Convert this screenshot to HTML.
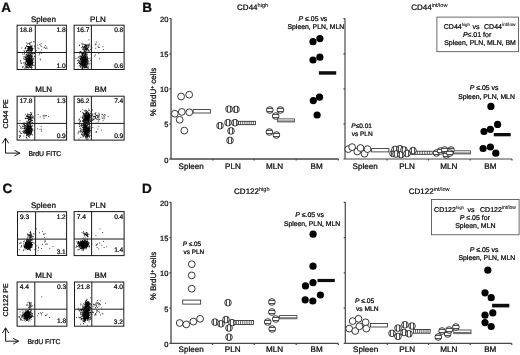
<!DOCTYPE html>
<html><head><meta charset="utf-8"><title>Figure</title>
<style>
html,body{margin:0;padding:0;background:#fff;}
body{width:520px;height:355px;overflow:hidden;font-family:"Liberation Sans",sans-serif;}
svg{display:block;font-family:"Liberation Sans",sans-serif;}
text .sp{stroke-width:0.08px;}
text{font-family:"Liberation Sans",sans-serif;fill:#0a0a0a;stroke:#0a0a0a;stroke-width:0.24px;text-rendering:geometricPrecision;}
</style></head><body>
<svg width="520" height="355" viewBox="0 0 520 355">
<rect width="520" height="355" fill="#fff"/>
<defs>
<filter id="bl" filterUnits="userSpaceOnUse" x="0" y="0" width="520" height="355"><feGaussianBlur stdDeviation="0.32"/></filter>
<g id="oc"><circle r="3.4" fill="#fff" stroke="#222" stroke-width="0.9"/></g>
<g id="fc"><circle r="3.6" fill="#050505"/></g>
<g id="vc"><circle r="3.35" fill="#e4e4e4"/><rect x="-1" y="-3.25" width="2" height="6.5" fill="#fff"/><path d="M-1.5 -3V3M1.5 -3V3" stroke="#222" stroke-width="0.75" fill="none"/><circle r="3.35" fill="none" stroke="#222" stroke-width="0.85"/></g>
<g id="hc"><circle r="3.35" fill="#e4e4e4"/><rect x="-3.25" y="-1" width="6.5" height="2" fill="#fff"/><path d="M-3 -1.5H3M-3 1.5H3" stroke="#222" stroke-width="0.75" fill="none"/><circle r="3.35" fill="none" stroke="#222" stroke-width="0.85"/></g>
</defs>
<g filter="url(#bl)">
<text x="1.2" y="11.9" font-size="13.5" text-anchor="start" font-weight="bold" fill="#000">A</text>
<text x="142.2" y="11.9" font-size="13.5" text-anchor="start" font-weight="bold" fill="#000">B</text>
<text x="2.6" y="193.4" font-size="13.5" text-anchor="start" font-weight="bold" fill="#000">C</text>
<text x="142.0" y="192.8" font-size="13.5" text-anchor="start" font-weight="bold" fill="#000">D</text>
<text x="43.5" y="22.4" font-size="8" text-anchor="middle" >Spleen</text>
<path d="M28.9 63.0h.01M29.0 59.7h.01M27.7 60.1h.01M31.4 62.7h.01M31.3 62.0h.01M30.1 61.7h.01M26.4 64.4h.01M30.3 63.0h.01M26.4 54.0h.01M27.8 59.1h.01M29.9 60.8h.01M30.3 58.4h.01M30.0 62.6h.01M28.2 67.9h.01M30.4 65.8h.01M28.3 58.0h.01M28.8 60.6h.01M30.5 62.0h.01M28.6 57.2h.01M28.5 65.9h.01M27.9 62.0h.01M30.2 55.0h.01M29.5 66.2h.01M25.8 59.7h.01M29.2 57.7h.01M30.3 60.8h.01M26.8 64.3h.01M30.6 64.8h.01M32.0 62.4h.01M29.6 55.8h.01M30.5 58.6h.01M28.6 55.9h.01M27.7 58.9h.01M31.7 52.9h.01M26.8 62.0h.01M32.0 63.3h.01M26.0 50.9h.01M30.0 58.1h.01M27.4 64.9h.01M31.4 61.6h.01M29.8 62.7h.01M32.3 63.5h.01M30.3 63.2h.01M26.6 66.1h.01M31.1 63.1h.01M25.8 58.5h.01M30.9 53.8h.01M29.1 65.1h.01M27.0 67.4h.01M30.4 60.4h.01M30.0 63.6h.01M29.6 65.6h.01M28.2 59.3h.01M31.3 61.1h.01M27.8 64.8h.01M32.0 59.2h.01M26.9 60.5h.01M29.1 59.8h.01M31.9 56.9h.01M31.7 55.9h.01M28.0 63.5h.01M31.4 64.4h.01M30.0 61.6h.01M29.7 63.3h.01M29.1 62.1h.01M30.4 61.0h.01M30.8 63.3h.01M33.0 62.3h.01M28.6 59.5h.01M29.4 64.7h.01M28.8 62.5h.01M32.7 50.7h.01M27.4 62.0h.01M30.1 62.0h.01M28.6 63.6h.01M29.9 58.9h.01M33.8 62.4h.01M28.4 60.6h.01M29.0 60.7h.01M24.5 59.1h.01M31.2 56.3h.01M29.3 64.8h.01M30.9 67.0h.01M26.3 59.6h.01M28.8 63.5h.01M31.4 50.3h.01M31.4 55.2h.01M30.6 55.0h.01M29.7 65.8h.01M29.1 61.8h.01M30.8 61.6h.01M29.2 67.1h.01M31.3 59.8h.01M34.3 56.4h.01M31.0 59.9h.01M29.6 63.8h.01M29.8 63.6h.01M26.7 55.0h.01M30.5 57.1h.01M27.6 55.1h.01M31.7 64.0h.01M32.1 57.2h.01M29.4 56.4h.01M30.8 67.4h.01M27.8 67.2h.01M31.2 60.3h.01M25.9 66.6h.01M29.2 58.6h.01M30.1 62.6h.01M32.1 56.9h.01M31.4 66.9h.01M32.0 60.3h.01M28.1 65.1h.01M29.6 61.5h.01M32.0 59.9h.01M25.3 59.5h.01M26.1 64.3h.01M30.0 58.6h.01M29.4 64.3h.01M29.5 66.3h.01M29.3 65.2h.01M32.1 67.4h.01M28.2 64.5h.01M26.0 56.7h.01M25.9 65.3h.01M27.2 60.9h.01M29.1 60.9h.01M28.3 61.9h.01M32.6 61.2h.01M30.4 65.0h.01M29.0 56.0h.01M28.4 65.3h.01M26.4 58.6h.01M31.2 64.2h.01M29.4 64.2h.01M29.7 56.3h.01M26.6 58.4h.01M31.1 58.7h.01M27.8 57.9h.01M26.6 60.5h.01M27.3 62.5h.01M25.2 62.3h.01M28.2 53.2h.01M30.7 59.9h.01M25.4 57.5h.01M29.9 59.2h.01M30.8 64.0h.01M30.6 62.3h.01M31.8 63.6h.01M30.2 52.7h.01M31.0 66.2h.01M28.9 59.1h.01M32.9 54.0h.01M27.7 63.8h.01M32.8 60.5h.01M30.4 64.6h.01M27.8 60.6h.01M29.9 64.3h.01M29.3 60.2h.01M27.6 59.6h.01M31.0 61.4h.01M27.9 57.6h.01M34.2 65.6h.01M30.5 50.6h.01M30.5 62.9h.01M32.4 62.7h.01M29.3 63.1h.01M25.9 65.1h.01M30.0 58.2h.01M31.8 68.2h.01M26.9 58.3h.01M29.9 61.7h.01M28.7 57.1h.01M33.2 65.1h.01M27.3 55.6h.01M32.5 65.0h.01M32.7 64.2h.01M27.8 62.0h.01M25.5 58.0h.01M29.3 63.1h.01M28.1 60.5h.01M30.2 62.5h.01M30.5 61.8h.01M28.8 64.2h.01M29.5 57.7h.01M28.3 61.0h.01M29.2 61.6h.01M29.4 61.7h.01M29.2 56.0h.01M30.2 65.2h.01M30.2 60.2h.01M30.2 57.1h.01M26.0 61.2h.01M27.7 64.0h.01M27.4 50.5h.01M27.5 67.3h.01M28.7 55.5h.01M28.0 63.1h.01M30.3 61.7h.01M32.1 63.8h.01M29.4 63.4h.01M32.4 64.9h.01M31.2 56.7h.01M29.1 63.9h.01M28.9 65.3h.01M30.5 64.6h.01M31.6 60.1h.01M28.8 64.5h.01M31.2 61.0h.01M27.3 61.8h.01M30.0 65.5h.01M30.8 61.1h.01M30.9 63.2h.01M29.8 61.2h.01M29.0 63.7h.01M27.5 58.5h.01M29.4 55.1h.01M28.6 53.0h.01M28.2 63.3h.01M30.4 60.8h.01M29.0 55.3h.01M32.7 63.1h.01M31.4 57.5h.01M29.1 53.7h.01M30.8 64.7h.01M26.0 60.8h.01M30.5 54.0h.01M26.1 56.7h.01M28.3 55.4h.01M29.5 62.0h.01M30.5 63.8h.01M32.1 65.7h.01M27.0 59.0h.01M27.5 56.7h.01M29.3 61.0h.01M30.3 54.7h.01M27.2 60.9h.01M29.0 59.8h.01M29.3 58.0h.01M30.7 62.4h.01M29.2 58.3h.01M29.1 50.1h.01M27.6 61.1h.01M26.7 61.8h.01M29.7 55.5h.01M28.9 59.7h.01M30.2 63.4h.01M29.3 57.6h.01M29.1 60.7h.01M30.7 62.2h.01M28.1 55.6h.01M28.7 58.0h.01M27.4 60.5h.01M28.5 61.4h.01M30.3 59.3h.01M33.6 59.7h.01M31.4 61.5h.01M31.4 51.5h.01M28.0 62.0h.01M30.0 66.1h.01M30.8 64.8h.01M30.3 60.4h.01M30.3 56.7h.01M31.5 56.9h.01M29.0 61.1h.01M31.5 61.1h.01M27.9 62.0h.01M30.4 63.8h.01M28.0 68.0h.01M32.4 61.1h.01M29.9 59.3h.01M31.9 58.2h.01M30.6 59.1h.01M28.2 63.9h.01M31.8 61.0h.01M28.2 64.2h.01M29.3 62.2h.01M32.1 65.5h.01M29.4 64.1h.01M28.2 60.8h.01M26.3 68.1h.01M31.9 56.1h.01M26.7 54.5h.01M31.5 59.2h.01M29.3 59.7h.01M29.2 56.6h.01M29.4 55.2h.01M29.3 62.2h.01M30.2 60.1h.01M27.8 61.6h.01M28.5 67.3h.01M30.8 60.5h.01M28.6 58.2h.01M27.7 59.6h.01M29.9 63.1h.01M28.1 61.1h.01M34.4 53.5h.01M28.5 61.7h.01M29.7 62.6h.01M29.0 62.5h.01M29.5 64.1h.01M26.0 57.5h.01M29.4 56.9h.01M27.5 63.5h.01M28.2 63.5h.01M30.7 62.2h.01M30.3 60.6h.01M26.9 60.9h.01M30.2 58.9h.01M29.2 64.0h.01M27.8 63.6h.01M32.8 58.8h.01M29.7 60.4h.01M32.2 62.3h.01M31.0 58.2h.01M29.4 61.0h.01M26.2 66.8h.01M31.0 54.0h.01M30.7 60.5h.01M30.2 62.5h.01M26.7 60.2h.01M32.1 58.7h.01M27.6 55.6h.01M27.2 62.3h.01M32.4 62.7h.01M28.5 58.3h.01M30.4 63.2h.01M27.6 56.3h.01M29.9 62.0h.01M27.0 60.2h.01M28.4 62.8h.01M29.2 60.7h.01M28.8 65.2h.01M31.9 59.5h.01M30.9 58.0h.01M29.5 64.0h.01M32.1 59.5h.01M29.3 61.8h.01M26.7 61.1h.01M28.2 62.5h.01M27.4 53.1h.01M29.5 62.0h.01M28.4 64.6h.01M28.9 58.6h.01M30.3 54.7h.01M28.2 60.9h.01M30.9 60.3h.01M30.0 58.4h.01M29.9 67.7h.01M28.2 61.1h.01M29.7 65.1h.01M27.2 52.6h.01M30.5 64.2h.01M29.8 62.0h.01M31.1 62.5h.01M32.4 56.0h.01M28.7 47.2h.01M30.9 59.5h.01M29.4 60.0h.01M28.5 57.6h.01M28.3 63.6h.01M29.5 61.3h.01M29.1 64.7h.01M30.3 60.4h.01M30.6 60.4h.01M27.3 66.8h.01M30.2 57.2h.01M31.3 62.4h.01M26.6 67.4h.01M30.0 64.6h.01M29.8 60.4h.01M26.6 64.9h.01M29.5 59.9h.01M30.0 61.3h.01M30.6 59.5h.01M29.3 52.4h.01M28.6 63.7h.01M31.8 59.5h.01M29.2 67.3h.01M28.8 63.9h.01M32.4 61.2h.01M31.6 58.2h.01M29.8 60.7h.01M29.6 65.5h.01M33.7 58.3h.01M28.4 63.0h.01M27.5 63.0h.01M30.4 59.9h.01M30.4 54.8h.01M30.8 54.8h.01M28.1 58.8h.01M28.7 64.4h.01M29.5 59.4h.01M30.4 67.3h.01M29.4 62.5h.01M31.6 62.1h.01M33.4 53.1h.01M29.3 62.7h.01M31.1 63.7h.01M28.9 56.8h.01M29.6 65.1h.01M27.4 56.9h.01M29.4 53.3h.01M28.9 59.3h.01M30.2 58.2h.01M27.8 59.4h.01M29.3 58.3h.01M29.4 64.0h.01M31.5 67.8h.01M28.0 59.3h.01M24.9 68.6h.01M28.1 60.9h.01M30.3 55.6h.01M30.2 60.9h.01M26.1 62.2h.01M31.6 53.5h.01M30.9 61.8h.01M30.3 62.8h.01M32.3 47.9h.01M31.5 47.4h.01M31.2 46.4h.01M29.6 53.0h.01M30.6 48.1h.01M27.6 46.4h.01M30.2 50.9h.01M30.6 49.9h.01M29.7 52.0h.01M29.1 47.1h.01M31.5 48.7h.01M29.3 47.0h.01M29.3 50.1h.01M30.5 45.4h.01M30.6 49.0h.01M27.9 50.5h.01M29.3 47.6h.01M31.3 51.9h.01M28.5 49.6h.01M28.1 54.5h.01M28.9 51.6h.01M28.6 50.6h.01M34.0 41.9h.01M29.0 49.8h.01M29.6 46.8h.01M33.9 48.7h.01M26.7 50.7h.01M26.5 51.5h.01M28.7 48.9h.01M32.2 48.8h.01M27.2 44.1h.01M32.0 50.4h.01M28.3 50.7h.01M30.7 50.2h.01M25.5 47.7h.01M31.5 50.4h.01M31.5 42.1h.01M30.1 49.8h.01M34.6 46.0h.01M29.2 48.6h.01M31.5 47.3h.01M32.0 46.5h.01M30.3 47.1h.01M30.1 46.7h.01M26.8 51.3h.01M30.4 47.0h.01M30.2 51.1h.01M27.9 48.2h.01M30.8 49.9h.01M29.2 43.0h.01M32.2 49.4h.01M29.8 47.8h.01M30.3 47.4h.01M27.9 46.6h.01M28.7 46.9h.01M27.6 50.2h.01M27.3 50.2h.01M27.9 49.4h.01M32.4 49.0h.01M28.4 48.6h.01M30.1 44.0h.01M28.6 48.9h.01M28.9 48.7h.01M31.2 50.5h.01M31.5 50.0h.01M29.3 48.5h.01M29.3 47.7h.01M29.5 44.0h.01M29.2 48.4h.01M27.9 48.4h.01M30.8 48.1h.01M33.7 41.7h.01M29.4 43.8h.01M31.7 55.4h.01M25.0 48.8h.01M30.8 47.7h.01M30.8 42.7h.01M31.4 49.5h.01M29.8 47.0h.01M31.0 47.2h.01M30.2 47.2h.01M25.5 48.4h.01M30.2 50.5h.01M28.1 48.4h.01M31.0 48.9h.01M32.2 53.7h.01M28.1 43.5h.01M31.4 52.5h.01M31.6 50.6h.01M28.6 46.6h.01M31.5 46.1h.01M26.4 45.9h.01M34.5 53.5h.01M28.5 46.6h.01M30.2 46.6h.01M32.3 48.3h.01M27.7 51.9h.01M28.7 49.1h.01M29.8 47.7h.01M30.4 46.7h.01M26.3 42.8h.01M27.4 46.5h.01M29.8 48.6h.01M30.9 48.8h.01M28.3 46.7h.01M25.8 48.1h.01M30.7 49.9h.01M29.6 48.0h.01M31.6 48.5h.01M31.2 50.0h.01M30.2 51.9h.01M28.7 47.6h.01M28.3 46.4h.01M32.8 53.1h.01M29.8 50.0h.01M32.0 50.6h.01M32.1 45.2h.01M28.6 49.7h.01M32.5 48.8h.01M28.2 47.6h.01M37.7 45.1h.01M45.3 45.6h.01M40.1 51.8h.01M44.1 47.7h.01M37.9 47.9h.01M45.7 48.4h.01M44.4 47.2h.01M41.8 46.6h.01M41.5 49.9h.01M35.0 46.9h.01M40.8 45.7h.01M38.9 48.7h.01M47.0 48.4h.01M41.1 43.6h.01M46.7 47.2h.01M39.9 44.5h.01M39.7 53.6h.01M40.4 59.9h.01M40.2 59.1h.01M35.7 63.7h.01M36.7 50.7h.01M39.1 54.9h.01M35.0 56.6h.01M41.5 53.3h.01M25.6 67.1h.01M28.0 59.2h.01M26.4 59.4h.01M25.9 63.7h.01M25.7 48.0h.01M25.9 55.6h.01M28.0 56.9h.01M22.9 54.4h.01M21.8 48.0h.01M20.4 61.8h.01M24.1 50.7h.01M21.6 63.1h.01M23.7 58.2h.01M27.0 66.8h.01M31.8 65.2h.01M26.4 60.9h.01M31.4 67.1h.01M25.1 62.3h.01M26.9 60.3h.01M24.5 53.4h.01M24.4 52.3h.01M29.7 62.7h.01M22.4 67.0h.01M28.7 50.5h.01M31.5 64.0h.01M32.2 53.8h.01M27.6 62.1h.01M26.6 60.9h.01M29.2 52.5h.01M22.3 53.0h.01M24.3 57.0h.01M27.1 61.3h.01M26.1 56.6h.01M24.7 64.8h.01M28.3 60.5h.01M25.0 67.8h.01M24.2 63.2h.01M29.5 58.7h.01M28.5 54.4h.01M29.0 61.0h.01M21.2 63.3h.01M23.3 66.4h.01M24.0 59.2h.01M26.8 58.3h.01M26.8 57.2h.01M28.0 60.0h.01M26.6 46.2h.01M29.5 60.2h.01M20.7 60.5h.01M27.4 65.4h.01M22.8 67.7h.01M25.6 63.4h.01M24.9 54.4h.01M29.3 64.5h.01M30.6 64.3h.01M24.3 51.7h.01M24.0 56.6h.01M23.6 62.9h.01" stroke="#000" stroke-width="0.85" stroke-linecap="round" fill="none"/>
<rect x="17.1" y="25.2" width="49.3" height="44.3" fill="none" stroke="#1a1a1a" stroke-width="1"/>
<path d="M35.3 25.2V69.5M17.1 52.5H66.4" stroke="#1a1a1a" stroke-width="1" fill="none"/>
<text x="19.700000000000003" y="32.4" font-size="6.6" text-anchor="start" >18.8</text>
<text x="65.60000000000001" y="32.4" font-size="6.6" text-anchor="end" >1.8</text>
<text x="65.60000000000001" y="67.6" font-size="6.6" text-anchor="end" >1.0</text>
<text x="97.9" y="22.4" font-size="8" text-anchor="middle" >PLN</text>
<path d="M84.8 60.0h.01M84.5 60.4h.01M84.6 63.9h.01M86.0 58.4h.01M81.3 66.4h.01M84.4 65.2h.01M81.1 59.7h.01M84.3 55.5h.01M83.2 63.8h.01M86.2 67.1h.01M82.6 55.7h.01M85.2 64.6h.01M84.6 56.1h.01M85.7 64.0h.01M85.3 59.1h.01M84.8 64.0h.01M83.1 54.0h.01M84.8 62.8h.01M84.2 64.4h.01M83.1 60.7h.01M83.6 63.2h.01M87.2 60.0h.01M88.1 66.8h.01M85.7 63.2h.01M87.6 60.3h.01M84.0 57.0h.01M85.1 66.1h.01M85.2 62.6h.01M83.8 61.6h.01M81.5 65.0h.01M83.4 56.8h.01M82.8 57.9h.01M85.8 65.0h.01M81.6 64.5h.01M85.9 58.8h.01M81.4 58.2h.01M83.0 62.3h.01M83.5 53.3h.01M84.6 55.2h.01M85.9 56.4h.01M82.9 57.8h.01M83.2 65.9h.01M85.8 63.3h.01M84.8 55.1h.01M83.2 58.9h.01M82.3 62.9h.01M82.8 58.3h.01M82.2 53.2h.01M85.3 66.1h.01M84.5 57.3h.01M79.1 61.7h.01M86.5 62.1h.01M86.0 66.6h.01M86.3 59.3h.01M86.2 63.9h.01M81.3 59.5h.01M81.5 60.6h.01M85.3 56.9h.01M80.3 65.9h.01M84.9 66.6h.01M81.7 65.0h.01M88.1 68.6h.01M83.8 62.0h.01M83.9 64.8h.01M86.2 61.3h.01M81.6 63.8h.01M83.3 63.4h.01M84.7 67.2h.01M86.4 59.3h.01M84.9 67.7h.01M83.2 62.6h.01M86.5 65.8h.01M85.2 56.0h.01M81.8 61.9h.01M82.6 65.3h.01M85.7 54.6h.01M82.6 61.6h.01M83.3 60.4h.01M85.1 57.9h.01M85.1 58.6h.01M83.2 63.0h.01M83.1 62.1h.01M87.2 61.1h.01M83.9 63.8h.01M83.5 65.1h.01M81.8 63.4h.01M83.2 58.0h.01M87.6 57.8h.01M87.5 63.5h.01M87.0 57.3h.01M86.5 66.5h.01M84.0 60.5h.01M88.9 61.7h.01M83.4 58.6h.01M85.0 62.3h.01M84.5 67.5h.01M83.6 62.8h.01M87.0 57.2h.01M86.2 68.0h.01M81.6 56.8h.01M82.2 54.0h.01M85.1 53.9h.01M85.1 66.5h.01M81.1 59.8h.01M80.6 64.0h.01M82.8 60.0h.01M84.3 63.1h.01M83.5 61.1h.01M83.2 61.4h.01M82.0 61.2h.01M80.5 59.1h.01M87.8 61.3h.01M81.8 62.0h.01M82.4 54.7h.01M82.8 63.8h.01M84.9 60.6h.01M82.4 56.9h.01M86.8 61.9h.01M82.4 53.0h.01M82.0 60.7h.01M84.6 60.4h.01M83.7 55.8h.01M82.2 67.4h.01M82.8 64.2h.01M81.0 60.0h.01M84.7 64.9h.01M82.1 63.3h.01M84.9 58.2h.01M85.1 57.6h.01M82.7 60.9h.01M79.0 60.6h.01M82.3 55.4h.01M83.4 63.9h.01M83.4 65.8h.01M82.0 56.0h.01M87.1 62.5h.01M86.0 57.9h.01M85.7 62.0h.01M85.4 61.1h.01M86.5 58.5h.01M82.4 55.4h.01M86.4 58.2h.01M82.2 57.4h.01M83.4 56.2h.01M83.6 58.6h.01M83.2 57.4h.01M84.3 59.2h.01M84.4 61.9h.01M84.8 52.7h.01M83.2 58.0h.01M85.7 55.0h.01M82.8 59.9h.01M83.6 64.8h.01M83.4 64.7h.01M81.4 54.1h.01M86.5 62.7h.01M85.1 61.5h.01M85.1 56.4h.01M86.0 59.0h.01M86.1 61.3h.01M80.4 56.1h.01M86.3 60.5h.01M83.4 61.9h.01M83.4 58.9h.01M84.4 61.5h.01M87.1 61.2h.01M87.8 67.9h.01M87.5 65.0h.01M84.4 61.5h.01M83.9 58.2h.01M84.1 58.6h.01M87.3 63.0h.01M83.4 53.7h.01M84.1 59.4h.01M82.1 56.7h.01M79.9 63.2h.01M84.1 60.4h.01M86.9 61.5h.01M84.5 59.6h.01M83.0 66.7h.01M86.1 67.5h.01M83.5 61.1h.01M82.5 64.7h.01M81.6 63.1h.01M86.3 66.4h.01M82.4 65.1h.01M82.8 58.1h.01M81.7 65.4h.01M87.3 58.7h.01M82.8 59.7h.01M89.0 64.8h.01M83.2 54.2h.01M82.9 65.5h.01M87.7 60.0h.01M82.9 59.1h.01M80.6 64.5h.01M82.1 65.0h.01M81.0 56.2h.01M84.7 58.1h.01M85.7 61.0h.01M82.0 63.4h.01M85.8 53.7h.01M87.7 62.9h.01M85.6 53.9h.01M82.8 59.7h.01M86.2 55.5h.01M82.5 53.3h.01M83.7 62.3h.01M81.0 58.8h.01M85.2 67.0h.01M85.5 59.8h.01M82.0 57.4h.01M82.9 61.6h.01M84.1 67.3h.01M84.7 56.9h.01M87.1 64.6h.01M84.4 58.3h.01M80.6 57.1h.01M85.9 57.9h.01M81.7 61.7h.01M84.7 63.3h.01M85.4 66.4h.01M82.6 64.7h.01M82.3 63.6h.01M84.5 61.9h.01M86.0 60.9h.01M86.3 64.3h.01M84.5 58.8h.01M82.8 59.0h.01M83.8 60.9h.01M89.9 63.4h.01M85.7 57.7h.01M82.9 59.8h.01M84.6 57.1h.01M87.3 58.9h.01M86.2 52.1h.01M84.2 62.1h.01M84.6 63.3h.01M84.7 61.6h.01M80.6 58.3h.01M79.7 63.4h.01M84.8 60.3h.01M82.6 58.8h.01M87.7 67.6h.01M84.1 65.9h.01M81.2 53.6h.01M83.3 57.7h.01M83.1 61.7h.01M89.9 58.5h.01M84.3 62.0h.01M84.1 64.5h.01M87.6 56.3h.01M84.5 60.0h.01M84.9 55.2h.01M80.9 52.2h.01M85.2 61.7h.01M84.3 52.0h.01M83.5 58.1h.01M81.5 57.5h.01M85.5 63.1h.01M84.2 63.0h.01M83.1 61.3h.01M84.3 63.1h.01M84.1 60.5h.01M83.9 58.5h.01M88.4 63.0h.01M86.9 55.1h.01M85.5 64.2h.01M87.8 66.0h.01M85.7 56.5h.01M82.5 62.0h.01M85.2 57.1h.01M83.5 59.5h.01M84.3 62.3h.01M83.7 56.3h.01M86.6 67.1h.01M84.0 64.9h.01M85.0 63.5h.01M85.1 58.1h.01M85.3 64.8h.01M82.5 68.5h.01M88.2 67.9h.01M88.0 63.8h.01M83.6 58.7h.01M82.7 61.4h.01M84.1 63.5h.01M88.5 60.9h.01M85.5 62.8h.01M84.7 60.2h.01M84.0 57.9h.01M84.5 60.9h.01M84.8 57.8h.01M84.3 61.2h.01M85.3 57.0h.01M85.0 64.7h.01M85.3 59.6h.01M83.3 60.1h.01M85.6 66.9h.01M83.9 58.6h.01M84.9 61.8h.01M82.5 58.2h.01M84.0 63.6h.01M81.9 57.1h.01M85.1 56.3h.01M84.4 62.3h.01M84.0 57.1h.01M84.1 59.7h.01M84.8 57.8h.01M86.3 54.6h.01M83.9 61.0h.01M86.0 58.7h.01M85.2 58.8h.01M85.6 67.6h.01M83.4 62.7h.01M82.4 64.7h.01M86.5 61.1h.01M82.0 62.5h.01M86.4 65.1h.01M85.7 54.0h.01M82.9 66.4h.01M81.9 65.3h.01M87.8 63.9h.01M86.3 59.7h.01M81.9 60.6h.01M83.8 60.8h.01M85.5 60.5h.01M84.6 62.6h.01M84.2 68.0h.01M85.0 61.3h.01M83.8 58.6h.01M86.8 61.6h.01M82.2 58.9h.01M83.9 59.3h.01M86.3 56.6h.01M85.1 61.5h.01M82.0 61.2h.01M84.0 62.9h.01M83.3 62.2h.01M81.0 56.9h.01M85.7 65.0h.01M84.2 58.7h.01M86.3 53.1h.01M82.7 63.6h.01M85.4 57.1h.01M80.6 66.5h.01M84.5 57.6h.01M84.3 64.4h.01M79.3 65.2h.01M85.6 53.1h.01M85.7 54.2h.01M86.4 62.5h.01M88.5 58.7h.01M84.2 65.0h.01M83.0 58.3h.01M83.5 60.7h.01M82.1 62.8h.01M85.2 61.3h.01M87.4 59.8h.01M86.7 58.9h.01M85.6 53.6h.01M84.6 60.3h.01M83.3 58.7h.01M83.5 58.3h.01M80.0 58.7h.01M83.2 59.0h.01M82.2 60.5h.01M85.7 60.0h.01M83.3 66.2h.01M86.1 64.5h.01M86.4 59.8h.01M84.0 65.2h.01M83.1 60.5h.01M84.9 62.4h.01M83.7 64.7h.01M83.9 63.8h.01M86.2 63.5h.01M85.6 56.6h.01M81.7 58.6h.01M85.1 66.7h.01M81.9 62.2h.01M82.6 58.2h.01M83.7 63.6h.01M84.6 65.5h.01M82.3 64.4h.01M86.0 61.3h.01M85.1 58.9h.01M82.1 59.5h.01M83.3 67.3h.01M84.6 62.2h.01M85.6 58.0h.01M85.9 62.4h.01M81.3 63.3h.01M85.2 62.7h.01M87.2 59.4h.01M85.2 63.8h.01M82.5 65.6h.01M81.4 56.1h.01M85.2 56.9h.01M84.0 54.7h.01M84.3 56.7h.01M84.8 55.2h.01M85.1 60.0h.01M84.3 60.7h.01M84.4 56.0h.01M79.3 61.1h.01M82.4 59.3h.01M85.0 53.5h.01M82.7 58.7h.01M82.2 62.2h.01M83.9 57.9h.01M82.3 64.1h.01M82.9 63.2h.01M85.1 53.8h.01M82.1 61.0h.01M84.8 64.0h.01M85.7 64.9h.01M83.5 60.2h.01M85.7 59.4h.01M86.2 55.0h.01M85.4 60.3h.01M80.5 64.7h.01M84.8 61.1h.01M82.2 59.2h.01M87.1 57.9h.01M79.4 45.1h.01M83.9 47.1h.01M85.5 44.9h.01M84.6 50.4h.01M83.4 53.0h.01M85.2 44.4h.01M87.9 49.1h.01M84.2 49.6h.01M82.6 44.9h.01M88.6 46.8h.01M83.7 48.9h.01M88.1 47.4h.01M82.7 46.5h.01M87.1 49.7h.01M90.0 46.8h.01M85.3 47.4h.01M88.7 44.9h.01M88.9 39.8h.01M87.9 45.6h.01M87.2 49.4h.01M83.9 47.3h.01M86.8 49.1h.01M84.4 44.7h.01M82.5 54.6h.01M85.9 46.9h.01M83.3 50.1h.01M85.2 51.5h.01M88.0 47.6h.01M87.8 44.4h.01M85.6 45.9h.01M83.8 47.5h.01M86.0 51.5h.01M79.6 45.6h.01M84.5 46.2h.01M87.1 48.6h.01M86.4 46.2h.01M87.3 48.5h.01M82.6 46.8h.01M83.6 44.2h.01M86.6 47.7h.01M86.5 45.0h.01M85.9 44.9h.01M87.1 49.4h.01M89.8 51.0h.01M84.7 46.2h.01M84.4 48.4h.01M90.3 49.5h.01M81.9 44.0h.01M83.7 48.9h.01M86.3 48.3h.01M89.9 45.2h.01M84.6 53.0h.01M87.0 45.3h.01M82.2 43.2h.01M81.4 47.7h.01M86.4 50.3h.01M86.0 45.6h.01M84.8 52.8h.01M82.8 48.0h.01M86.4 49.2h.01M85.5 48.9h.01M87.9 47.1h.01M85.4 47.0h.01M84.4 46.9h.01M85.7 48.1h.01M89.0 51.2h.01M85.4 49.2h.01M86.9 49.6h.01M86.3 48.2h.01M85.4 45.3h.01M88.0 51.1h.01M87.6 48.7h.01M86.8 46.2h.01M82.7 49.4h.01M86.7 45.9h.01M84.4 51.1h.01M82.7 52.4h.01M87.6 54.1h.01M84.9 47.4h.01M85.3 47.9h.01M85.9 45.4h.01M88.4 45.3h.01M85.3 49.1h.01M85.2 46.3h.01M87.0 46.5h.01M83.8 47.2h.01M85.9 52.3h.01M84.1 50.2h.01M84.7 46.5h.01M85.6 48.3h.01M88.0 52.4h.01M85.0 51.2h.01M88.3 49.8h.01M84.8 50.0h.01M86.1 48.5h.01M85.8 49.4h.01M88.5 50.7h.01M85.9 50.3h.01M89.2 44.9h.01M89.2 43.8h.01M99.2 47.5h.01M102.9 46.7h.01M95.1 44.0h.01M92.0 47.9h.01M96.1 44.2h.01M99.1 44.1h.01M95.3 44.9h.01M103.6 49.7h.01M96.4 42.1h.01M98.1 46.2h.01M98.4 47.4h.01M95.7 48.3h.01M99.3 58.8h.01M94.4 56.1h.01M98.8 53.6h.01M95.4 55.0h.01M90.4 60.4h.01M80.4 61.2h.01M82.9 53.5h.01M80.3 62.4h.01M82.8 55.6h.01M82.5 62.1h.01M84.3 66.7h.01M80.5 58.9h.01M79.5 56.3h.01M80.4 51.6h.01M80.3 63.1h.01M83.3 59.3h.01M84.4 57.7h.01M80.1 51.6h.01M78.4 57.0h.01M84.6 63.6h.01M77.5 63.6h.01M81.8 59.9h.01M80.6 59.5h.01M79.0 52.3h.01M80.3 67.3h.01M84.4 59.6h.01M78.5 60.0h.01M83.0 62.7h.01M78.9 62.8h.01M79.9 63.5h.01M79.4 53.8h.01M80.7 64.7h.01M77.5 60.5h.01M82.9 59.2h.01M82.8 66.0h.01M77.9 69.0h.01M76.0 58.5h.01M82.5 67.5h.01M78.0 57.8h.01M81.0 51.6h.01M82.2 63.7h.01M79.3 63.6h.01M82.6 62.5h.01M81.9 68.4h.01M79.2 61.8h.01M79.1 66.0h.01M79.4 63.3h.01M80.9 61.3h.01M85.2 60.6h.01M84.3 65.0h.01M84.1 60.2h.01M83.0 64.7h.01M78.8 62.3h.01M80.2 60.8h.01M84.0 57.5h.01M75.9 52.6h.01M79.3 57.9h.01M80.5 63.7h.01M85.3 62.5h.01M81.8 57.5h.01M82.1 67.6h.01M84.1 51.6h.01M82.9 68.6h.01" stroke="#000" stroke-width="0.85" stroke-linecap="round" fill="none"/>
<rect x="74.1" y="25.2" width="50.0" height="44.3" fill="none" stroke="#1a1a1a" stroke-width="1"/>
<path d="M91.4 25.2V69.5M74.1 52.5H124.1" stroke="#1a1a1a" stroke-width="1" fill="none"/>
<text x="76.69999999999999" y="32.4" font-size="6.6" text-anchor="start" >16.7</text>
<text x="123.3" y="32.4" font-size="6.6" text-anchor="end" >0.8</text>
<text x="123.3" y="67.6" font-size="6.6" text-anchor="end" >0.6</text>
<text x="43.7" y="91.8" font-size="8" text-anchor="middle" >MLN</text>
<path d="M30.2 125.5h.01M28.3 131.5h.01M29.5 127.5h.01M27.3 132.6h.01M26.5 133.9h.01M28.8 130.7h.01M26.5 128.1h.01M30.0 125.6h.01M32.4 125.7h.01M26.7 129.9h.01M29.6 131.9h.01M28.2 129.2h.01M28.4 128.1h.01M24.3 132.6h.01M29.2 130.3h.01M27.7 130.5h.01M28.8 129.6h.01M30.7 124.8h.01M29.2 126.7h.01M28.3 134.1h.01M26.9 129.5h.01M27.8 132.5h.01M27.1 125.0h.01M29.7 128.8h.01M28.2 132.9h.01M27.3 128.7h.01M29.1 131.0h.01M27.9 132.8h.01M32.7 128.6h.01M32.0 123.7h.01M31.2 128.8h.01M29.0 128.8h.01M27.7 126.1h.01M28.1 133.5h.01M30.8 128.8h.01M27.9 127.8h.01M26.7 135.0h.01M29.9 130.1h.01M28.0 126.9h.01M31.1 132.0h.01M27.2 132.6h.01M26.9 131.6h.01M27.1 128.6h.01M29.7 131.0h.01M30.5 127.4h.01M31.5 133.7h.01M28.8 131.1h.01M27.5 129.4h.01M26.5 130.1h.01M29.1 133.7h.01M30.4 132.1h.01M28.2 129.2h.01M28.2 130.4h.01M25.5 132.0h.01M26.1 128.3h.01M28.8 128.3h.01M31.7 129.5h.01M31.5 133.2h.01M27.9 131.0h.01M31.0 128.8h.01M29.0 128.2h.01M28.9 128.8h.01M28.9 132.7h.01M31.2 130.2h.01M29.1 132.3h.01M28.3 126.8h.01M30.7 127.1h.01M30.4 127.0h.01M32.0 126.8h.01M30.3 134.1h.01M27.1 134.1h.01M27.4 124.7h.01M30.0 131.8h.01M28.4 122.5h.01M28.7 128.9h.01M28.1 129.0h.01M25.7 128.2h.01M31.9 134.3h.01M28.2 127.7h.01M29.5 132.9h.01M30.0 126.4h.01M29.1 130.2h.01M31.3 133.2h.01M29.7 133.3h.01M28.1 134.2h.01M28.1 130.9h.01M30.4 127.2h.01M27.6 124.7h.01M29.1 129.6h.01M28.2 131.2h.01M25.1 129.7h.01M29.0 129.0h.01M30.2 134.8h.01M28.0 127.1h.01M27.8 130.1h.01M29.8 127.3h.01M30.5 126.8h.01M30.2 131.0h.01M29.6 136.0h.01M28.3 129.3h.01M29.6 132.3h.01M26.5 130.6h.01M27.5 131.6h.01M31.2 129.9h.01M28.6 130.3h.01M23.7 132.0h.01M29.8 130.3h.01M28.1 127.7h.01M28.5 133.3h.01M28.6 133.7h.01M24.4 128.5h.01M29.3 129.8h.01M25.9 127.9h.01M31.0 126.1h.01M27.1 126.6h.01M27.8 131.7h.01M29.8 124.0h.01M31.3 128.1h.01M27.8 134.6h.01M28.7 126.2h.01M27.7 127.7h.01M27.1 128.8h.01M30.3 130.8h.01M26.4 137.8h.01M27.1 130.1h.01M28.9 132.0h.01M28.2 131.1h.01M32.4 130.1h.01M26.9 130.7h.01M27.4 128.7h.01M29.1 130.8h.01M28.3 132.2h.01M28.5 126.0h.01M30.3 128.8h.01M30.9 127.9h.01M29.8 130.7h.01M24.1 125.5h.01M26.9 133.9h.01M25.5 132.4h.01M30.7 131.2h.01M30.0 128.4h.01M28.8 130.4h.01M29.5 131.8h.01M28.4 127.8h.01M27.8 131.0h.01M25.9 126.2h.01M28.1 128.2h.01M28.3 122.1h.01M28.2 129.1h.01M30.1 124.1h.01M28.3 131.2h.01M29.6 133.2h.01M30.6 126.8h.01M29.9 128.8h.01M27.4 134.2h.01M27.7 127.3h.01M28.1 127.3h.01M30.5 130.9h.01M31.2 131.0h.01M27.7 132.8h.01M27.7 128.5h.01M28.5 129.9h.01M30.9 128.1h.01M29.4 129.7h.01M26.6 126.6h.01M28.4 131.0h.01M29.4 131.2h.01M28.9 128.5h.01M29.5 126.9h.01M26.5 128.8h.01M26.3 128.3h.01M27.5 128.2h.01M28.7 127.5h.01M28.1 124.9h.01M29.1 127.3h.01M29.5 121.6h.01M27.4 130.5h.01M24.6 128.8h.01M29.0 130.1h.01M26.2 130.5h.01M29.1 127.0h.01M30.1 129.7h.01M28.8 128.5h.01M29.8 130.1h.01M30.8 131.1h.01M27.7 129.2h.01M30.4 128.7h.01M29.5 131.3h.01M28.5 123.1h.01M29.0 130.4h.01M29.0 127.6h.01M30.9 129.4h.01M27.7 127.7h.01M29.4 126.6h.01M27.1 135.6h.01M31.1 132.9h.01M31.2 131.5h.01M25.9 133.3h.01M31.0 131.2h.01M25.4 133.4h.01M31.2 128.4h.01M29.0 132.1h.01M28.7 133.0h.01M28.9 131.8h.01M28.9 125.5h.01M27.1 139.0h.01M29.3 133.6h.01M30.8 134.8h.01M29.8 128.1h.01M28.8 124.2h.01M28.5 132.4h.01M25.0 130.4h.01M30.2 133.7h.01M27.2 127.9h.01M25.5 126.8h.01M29.7 135.8h.01M26.8 133.8h.01M29.5 128.4h.01M32.6 122.5h.01M28.7 130.4h.01M32.5 135.0h.01M32.8 130.2h.01M30.5 133.8h.01M29.7 130.8h.01M28.5 128.6h.01M26.7 135.5h.01M28.0 123.7h.01M29.3 129.7h.01M29.1 135.1h.01M28.6 129.0h.01M27.5 129.7h.01M28.0 130.4h.01M34.3 130.9h.01M27.3 135.4h.01M30.3 132.2h.01M30.1 132.2h.01M30.0 133.9h.01M30.6 133.7h.01M27.9 129.8h.01M27.5 132.6h.01M30.3 128.4h.01M29.8 137.5h.01M31.0 126.5h.01M28.6 131.7h.01M28.7 130.9h.01M30.9 130.8h.01M26.9 131.9h.01M28.6 130.1h.01M27.8 125.8h.01M26.6 128.8h.01M26.9 121.9h.01M30.8 126.4h.01M27.5 131.4h.01M24.6 133.7h.01M27.5 131.7h.01M28.0 130.7h.01M29.0 129.8h.01M25.6 125.5h.01M28.7 133.9h.01M27.8 131.4h.01M29.1 131.2h.01M30.5 125.4h.01M29.3 129.3h.01M28.3 127.3h.01M27.4 126.8h.01M26.9 137.1h.01M31.8 129.8h.01M30.1 126.9h.01M23.9 124.5h.01M29.0 134.0h.01M28.7 126.9h.01M28.4 126.9h.01M26.4 129.1h.01M28.1 127.4h.01M27.2 127.1h.01M29.2 133.9h.01M28.4 136.3h.01M26.0 130.6h.01M26.8 129.3h.01M29.0 131.4h.01M30.8 128.2h.01M26.6 129.2h.01M29.3 127.8h.01M30.4 134.7h.01M26.3 130.9h.01M30.6 124.2h.01M29.2 129.1h.01M26.3 133.6h.01M29.2 128.4h.01M29.6 131.7h.01M30.1 131.5h.01M29.5 126.4h.01M28.1 130.2h.01M23.9 136.0h.01M28.1 126.7h.01M25.6 130.5h.01M28.9 128.1h.01M28.1 127.2h.01M27.5 129.5h.01M27.7 131.8h.01M28.5 130.2h.01M29.5 133.5h.01M29.9 130.5h.01M28.5 127.4h.01M28.2 131.8h.01M29.2 128.7h.01M26.5 125.3h.01M29.4 132.8h.01M29.5 125.8h.01M28.4 130.4h.01M27.2 130.8h.01M28.4 127.4h.01M26.6 132.2h.01M29.4 127.2h.01M27.0 132.4h.01M29.8 128.9h.01M31.6 129.0h.01M26.9 133.0h.01M28.5 130.8h.01M28.9 126.9h.01M26.7 129.2h.01M31.3 126.9h.01M31.2 130.4h.01M26.9 130.6h.01M29.8 127.2h.01M25.1 130.8h.01M26.9 131.1h.01M25.5 129.4h.01M27.4 125.5h.01M28.4 130.3h.01M27.8 126.4h.01M29.2 124.7h.01M29.7 131.2h.01M31.7 132.4h.01M29.4 130.6h.01M28.8 125.9h.01M31.4 131.3h.01M28.3 126.5h.01M31.4 131.4h.01M26.7 131.8h.01M32.1 129.7h.01M29.5 128.6h.01M27.7 132.9h.01M34.2 130.1h.01M28.6 132.1h.01M28.3 131.9h.01M30.2 126.8h.01M26.9 129.6h.01M30.3 130.6h.01M31.0 125.8h.01M29.7 128.0h.01M29.0 130.7h.01M27.1 129.1h.01M26.8 130.6h.01M27.3 128.4h.01M29.2 127.9h.01M30.8 127.9h.01M30.3 130.6h.01M27.0 129.2h.01M27.3 128.7h.01M28.3 135.1h.01M28.1 134.4h.01M29.6 126.0h.01M24.8 131.8h.01M25.3 131.9h.01M30.6 130.9h.01M28.4 129.1h.01M29.3 128.9h.01M27.9 128.7h.01M30.8 128.0h.01M29.5 126.5h.01M27.6 125.8h.01M28.5 131.8h.01M29.3 128.4h.01M29.9 128.8h.01M29.4 130.6h.01M29.7 122.6h.01M26.5 132.0h.01M28.6 136.3h.01M28.4 128.2h.01M31.4 131.4h.01M32.1 131.3h.01M28.4 131.9h.01M27.4 128.5h.01M27.8 129.2h.01M30.2 128.4h.01M29.4 128.4h.01M30.3 121.8h.01M28.4 130.3h.01M26.9 132.7h.01M29.2 133.5h.01M30.5 131.7h.01M28.5 126.6h.01M28.4 128.5h.01M29.2 128.5h.01M34.1 125.2h.01M30.8 128.4h.01M28.4 132.5h.01M28.8 126.3h.01M29.5 129.2h.01M25.6 118.7h.01M27.6 116.3h.01M30.5 119.0h.01M29.0 123.6h.01M30.4 116.7h.01M30.1 117.9h.01M25.3 114.2h.01M26.9 123.4h.01M29.2 117.5h.01M28.5 120.7h.01M29.7 122.5h.01M31.1 122.3h.01M29.4 119.1h.01M28.8 117.8h.01M26.3 116.7h.01M27.8 116.6h.01M31.9 118.9h.01M32.0 120.4h.01M31.4 120.7h.01M28.4 120.2h.01M29.0 116.9h.01M31.9 123.6h.01M27.7 122.6h.01M31.2 116.1h.01M30.1 119.1h.01M30.3 117.3h.01M27.1 118.3h.01M31.3 120.2h.01M30.9 121.0h.01M27.7 118.1h.01M30.3 120.7h.01M29.9 119.5h.01M29.9 123.5h.01M25.4 118.1h.01M34.4 118.8h.01M26.1 118.5h.01M26.8 116.5h.01M30.0 122.5h.01M30.5 119.9h.01M31.6 118.7h.01M27.9 118.0h.01M30.2 117.5h.01M28.3 117.3h.01M26.7 115.6h.01M29.4 117.3h.01M29.7 121.7h.01M30.2 118.1h.01M27.3 115.5h.01M30.3 116.0h.01M30.4 115.5h.01M29.9 118.0h.01M31.5 117.2h.01M28.9 118.8h.01M29.7 122.4h.01M29.1 116.9h.01M29.0 119.4h.01M30.1 119.9h.01M26.9 124.4h.01M33.1 118.1h.01M27.3 118.6h.01M30.4 112.6h.01M29.6 114.5h.01M30.5 121.7h.01M31.6 114.4h.01M32.3 120.5h.01M28.9 119.5h.01M32.5 117.4h.01M29.6 116.8h.01M31.8 112.8h.01M32.3 115.8h.01M31.4 114.1h.01M27.8 116.7h.01M31.2 114.1h.01M30.8 116.6h.01M32.0 117.4h.01M30.5 117.8h.01M33.1 117.3h.01M29.6 123.2h.01M29.7 119.9h.01M28.2 118.7h.01M25.2 118.5h.01M28.4 114.4h.01M26.9 121.1h.01M30.4 114.4h.01M33.1 116.5h.01M28.9 118.8h.01M27.4 114.2h.01M28.2 121.2h.01M31.4 114.2h.01M31.9 118.3h.01M30.6 118.3h.01M30.4 115.7h.01M27.9 116.4h.01M28.9 119.7h.01M27.3 122.2h.01M28.4 116.7h.01M31.0 119.3h.01M28.9 115.5h.01M27.7 114.2h.01M31.8 120.9h.01M48.4 116.6h.01M44.0 116.9h.01M45.7 115.7h.01M44.0 118.5h.01M38.1 114.4h.01M40.2 116.9h.01M46.4 115.6h.01M44.9 115.9h.01M43.9 115.4h.01M42.9 116.0h.01M41.6 131.2h.01M37.4 128.8h.01M40.0 129.4h.01M41.5 129.1h.01M41.2 126.6h.01M19.9 135.4h.01M27.8 125.3h.01M28.0 131.6h.01M21.8 133.5h.01M22.7 126.1h.01M20.3 128.2h.01M27.2 126.4h.01M19.5 137.3h.01M29.5 131.7h.01M23.1 124.3h.01M20.1 131.2h.01M28.0 124.9h.01M24.5 127.9h.01M23.8 130.9h.01M30.1 126.5h.01M26.8 133.2h.01M23.7 128.4h.01M20.9 133.2h.01M23.1 126.5h.01M24.7 125.7h.01M21.7 127.9h.01M28.5 128.2h.01M25.9 123.3h.01M19.2 136.0h.01M23.4 123.1h.01M24.2 131.3h.01M19.8 125.6h.01M25.2 125.4h.01M26.7 132.7h.01M25.7 127.3h.01M24.4 126.6h.01M24.1 130.2h.01M23.7 132.8h.01M31.5 126.9h.01M25.4 132.2h.01M26.2 128.1h.01M23.2 132.9h.01M26.2 131.0h.01M22.3 131.4h.01M26.6 128.3h.01M26.2 137.4h.01M19.4 131.3h.01M21.3 123.7h.01M23.9 131.1h.01M24.6 124.5h.01M20.6 126.8h.01M24.5 125.8h.01M20.4 135.8h.01M22.2 128.4h.01M23.0 126.7h.01M24.6 127.8h.01M26.2 124.4h.01M20.5 136.5h.01M24.3 132.0h.01M27.7 131.1h.01M24.6 123.0h.01M20.2 132.8h.01M26.3 131.2h.01M20.0 120.7h.01" stroke="#000" stroke-width="0.85" stroke-linecap="round" fill="none"/>
<rect x="17.1" y="96.2" width="49.5" height="43.9" fill="none" stroke="#1a1a1a" stroke-width="1"/>
<path d="M34.8 96.2V140.1M17.1 123.4H66.6" stroke="#1a1a1a" stroke-width="1" fill="none"/>
<text x="19.700000000000003" y="103.4" font-size="6.6" text-anchor="start" >17.8</text>
<text x="65.8" y="103.4" font-size="6.6" text-anchor="end" >1.3</text>
<text x="65.8" y="138.2" font-size="6.6" text-anchor="end" >0.9</text>
<text x="100.6" y="91.8" font-size="8" text-anchor="middle" >BM</text>
<path d="M84.4 125.7h.01M86.5 126.2h.01M89.0 127.7h.01M85.2 133.2h.01M86.8 126.7h.01M87.6 137.1h.01M84.1 129.1h.01M84.3 122.8h.01M87.3 132.6h.01M87.9 131.6h.01M82.7 129.9h.01M85.0 125.7h.01M84.3 132.8h.01M85.7 137.3h.01M87.0 123.0h.01M87.8 134.6h.01M86.3 125.5h.01M89.3 125.2h.01M86.1 123.0h.01M84.0 123.7h.01M88.1 134.4h.01M85.5 125.0h.01M86.1 131.4h.01M83.5 125.7h.01M86.0 132.6h.01M86.3 131.7h.01M84.0 120.8h.01M86.7 126.6h.01M86.0 128.6h.01M87.0 127.1h.01M88.7 130.1h.01M87.1 132.3h.01M88.0 131.5h.01M83.1 127.7h.01M89.5 131.8h.01M87.2 131.7h.01M85.1 127.5h.01M85.1 134.3h.01M86.8 136.6h.01M87.1 137.0h.01M87.0 125.6h.01M89.3 131.3h.01M88.3 130.8h.01M85.6 130.6h.01M84.2 125.6h.01M84.6 128.0h.01M83.8 129.6h.01M86.7 137.6h.01M89.4 129.8h.01M87.8 129.2h.01M86.9 129.9h.01M85.2 130.3h.01M83.6 131.6h.01M85.7 126.0h.01M85.6 132.1h.01M85.0 131.8h.01M87.2 135.8h.01M84.3 129.6h.01M87.1 135.6h.01M86.7 132.8h.01M83.6 127.8h.01M89.1 128.9h.01M90.0 127.3h.01M85.7 124.0h.01M87.3 131.0h.01M89.8 130.6h.01M85.8 124.7h.01M86.1 133.5h.01M87.5 134.6h.01M87.7 129.8h.01M87.3 130.6h.01M83.8 136.4h.01M86.9 126.1h.01M86.9 131.1h.01M88.0 135.4h.01M80.8 132.1h.01M88.9 126.4h.01M82.9 131.0h.01M86.8 131.3h.01M84.2 128.2h.01M86.5 132.8h.01M90.1 131.1h.01M85.1 121.1h.01M88.1 129.5h.01M86.0 126.3h.01M87.5 123.3h.01M86.4 130.5h.01M86.7 134.9h.01M86.0 130.4h.01M87.7 124.2h.01M85.7 130.3h.01M87.9 127.0h.01M87.6 131.4h.01M83.5 124.4h.01M83.6 130.5h.01M86.6 132.7h.01M87.7 127.9h.01M88.1 133.1h.01M87.0 131.8h.01M83.9 131.4h.01M84.4 125.5h.01M85.6 130.5h.01M86.1 128.8h.01M84.4 130.7h.01M84.9 124.7h.01M86.4 135.5h.01M85.5 126.0h.01M88.7 136.5h.01M85.7 129.2h.01M86.4 133.8h.01M87.0 123.1h.01M84.2 125.3h.01M87.0 130.4h.01M89.4 129.0h.01M86.8 130.3h.01M86.4 138.8h.01M86.7 135.6h.01M88.5 127.7h.01M87.4 128.6h.01M86.4 130.6h.01M86.2 128.2h.01M89.0 129.0h.01M87.5 136.4h.01M87.3 133.9h.01M88.7 134.1h.01M89.3 124.6h.01M89.7 130.1h.01M83.1 127.6h.01M83.7 129.9h.01M83.5 126.2h.01M86.7 130.6h.01M84.8 129.1h.01M86.0 130.3h.01M86.2 129.2h.01M87.8 123.9h.01M85.3 130.5h.01M85.5 127.9h.01M85.4 130.8h.01M88.4 129.3h.01M85.7 131.4h.01M85.8 122.7h.01M86.7 128.6h.01M85.2 132.4h.01M86.3 127.9h.01M82.3 123.5h.01M86.2 129.6h.01M87.0 130.8h.01M85.3 125.2h.01M84.2 129.5h.01M84.1 132.9h.01M83.8 123.2h.01M85.9 123.3h.01M89.1 126.2h.01M86.1 129.1h.01M84.7 123.3h.01M82.9 133.3h.01M88.0 138.2h.01M83.6 132.1h.01M86.2 133.2h.01M85.3 132.7h.01M87.8 132.3h.01M88.8 129.3h.01M89.0 127.3h.01M89.2 119.6h.01M86.2 127.0h.01M86.2 133.9h.01M87.5 130.4h.01M89.3 124.4h.01M84.7 135.7h.01M86.8 122.1h.01M86.8 125.5h.01M88.9 134.3h.01M85.2 134.9h.01M84.7 133.5h.01M87.2 129.5h.01M83.6 128.9h.01M82.1 127.9h.01M82.9 134.6h.01M84.5 120.8h.01M87.3 131.4h.01M85.3 138.0h.01M87.6 130.3h.01M85.0 118.8h.01M87.1 133.6h.01M85.1 124.6h.01M86.1 123.6h.01M86.2 132.9h.01M88.9 131.0h.01M86.6 132.8h.01M88.7 128.8h.01M84.0 127.0h.01M83.9 126.6h.01M86.0 131.3h.01M86.5 130.3h.01M85.6 131.6h.01M87.8 132.9h.01M88.9 128.9h.01M85.7 136.4h.01M86.6 131.6h.01M85.6 133.7h.01M85.5 126.2h.01M86.1 128.3h.01M87.7 128.6h.01M86.4 129.2h.01M86.8 127.6h.01M88.2 124.6h.01M85.5 127.3h.01M87.4 130.2h.01M87.1 128.7h.01M84.9 125.7h.01M85.6 128.0h.01M86.7 131.3h.01M88.0 129.6h.01M84.9 126.0h.01M86.3 131.4h.01M89.7 130.7h.01M89.4 137.1h.01M84.3 134.6h.01M88.2 135.1h.01M86.2 133.6h.01M85.3 129.7h.01M86.2 136.8h.01M85.8 133.6h.01M86.3 127.3h.01M86.6 132.5h.01M84.9 132.4h.01M84.9 126.7h.01M86.6 129.1h.01M84.4 123.8h.01M86.2 130.9h.01M85.4 130.7h.01M83.5 131.5h.01M86.9 131.1h.01M85.1 130.3h.01M86.4 134.1h.01M86.7 131.0h.01M84.9 133.3h.01M88.3 128.1h.01M87.3 131.2h.01M86.1 125.1h.01M89.4 122.9h.01M86.7 128.6h.01M88.3 128.4h.01M86.3 132.3h.01M87.0 128.0h.01M87.4 131.5h.01M88.0 128.1h.01M86.1 128.5h.01M84.7 131.0h.01M86.9 135.4h.01M85.6 131.5h.01M88.3 129.6h.01M86.3 130.5h.01M85.0 126.3h.01M88.2 130.7h.01M86.1 125.3h.01M86.4 134.4h.01M84.1 126.6h.01M88.2 135.4h.01M89.0 127.9h.01M87.3 127.2h.01M87.1 128.6h.01M86.6 135.1h.01M86.8 129.1h.01M86.3 131.0h.01M85.3 130.8h.01M87.3 135.9h.01M82.5 125.5h.01M84.0 133.3h.01M90.6 130.7h.01M86.4 134.3h.01M81.8 129.3h.01M80.6 130.6h.01M85.3 128.2h.01M86.8 127.8h.01M88.2 130.0h.01M86.9 139.6h.01M85.4 133.5h.01M84.7 134.7h.01M87.9 130.5h.01M88.0 136.1h.01M88.7 130.0h.01M86.1 134.2h.01M83.6 127.7h.01M87.1 132.1h.01M89.5 136.6h.01M86.8 131.7h.01M83.8 129.3h.01M86.7 129.1h.01M86.3 132.3h.01M84.5 127.9h.01M83.0 134.3h.01M84.3 123.6h.01M87.6 129.2h.01M87.9 128.6h.01M90.0 132.7h.01M86.5 130.4h.01M85.8 133.0h.01M89.8 128.4h.01M84.3 132.2h.01M88.1 124.4h.01M85.0 126.3h.01M87.2 131.9h.01M84.9 125.8h.01M87.4 122.3h.01M87.3 129.4h.01M89.6 133.7h.01M85.2 129.0h.01M85.7 127.3h.01M86.3 133.6h.01M83.5 129.1h.01M88.9 132.8h.01M84.8 127.0h.01M84.7 124.0h.01M88.2 130.3h.01M85.0 124.6h.01M85.5 128.1h.01M89.3 128.3h.01M86.4 134.0h.01M87.4 129.3h.01M82.3 135.2h.01M87.3 128.4h.01M86.0 126.4h.01M84.6 124.5h.01M87.1 131.9h.01M86.5 132.9h.01M87.1 130.5h.01M84.6 132.2h.01M88.3 132.4h.01M88.4 128.2h.01M84.5 134.7h.01M85.2 130.9h.01M85.9 130.1h.01M85.7 128.0h.01M83.0 137.1h.01M86.6 122.8h.01M84.6 125.8h.01M84.9 120.5h.01M87.2 136.1h.01M85.8 132.8h.01M87.3 125.4h.01M88.4 123.7h.01M85.2 128.7h.01M88.4 130.4h.01M86.0 127.0h.01M86.4 130.2h.01M87.5 135.2h.01M87.5 130.1h.01M85.9 136.0h.01M86.6 129.9h.01M89.4 135.8h.01M87.2 129.6h.01M85.1 134.0h.01M85.4 133.6h.01M84.8 130.4h.01M86.9 130.5h.01M86.6 131.4h.01M84.2 125.9h.01M85.9 136.7h.01M86.0 126.6h.01M85.0 130.1h.01M88.3 127.9h.01M87.2 130.7h.01M85.6 126.5h.01M85.9 127.3h.01M87.1 123.5h.01M88.2 132.8h.01M87.2 135.6h.01M87.3 123.7h.01M86.3 131.7h.01M85.0 125.8h.01M87.0 131.9h.01M85.5 129.1h.01M85.3 127.9h.01M86.1 134.0h.01M83.4 128.7h.01M89.0 131.2h.01M86.5 133.1h.01M84.4 125.5h.01M83.3 124.6h.01M86.6 133.1h.01M85.5 127.5h.01M86.9 132.3h.01M86.7 122.9h.01M85.2 120.6h.01M86.6 126.9h.01M85.0 135.6h.01M88.5 131.8h.01M86.7 130.6h.01M85.2 129.8h.01M89.6 126.8h.01M85.0 130.6h.01M87.8 133.1h.01M84.5 129.5h.01M85.7 125.4h.01M86.3 128.2h.01M87.8 131.6h.01M84.8 130.3h.01M85.6 127.7h.01M85.3 133.9h.01M85.5 123.7h.01M84.8 133.0h.01M90.0 126.1h.01M85.6 128.8h.01M83.7 131.5h.01M86.1 131.0h.01M90.1 129.0h.01M87.6 133.1h.01M85.1 127.8h.01M88.9 132.6h.01M86.5 126.0h.01M87.7 131.9h.01M90.0 135.4h.01M87.6 131.0h.01M86.3 128.0h.01M86.7 130.9h.01M87.3 134.0h.01M86.7 128.0h.01M87.6 135.7h.01M84.7 131.6h.01M87.2 132.0h.01M87.1 129.7h.01M86.0 136.2h.01M89.2 124.8h.01M81.8 131.6h.01M85.0 128.1h.01M83.4 131.3h.01M86.1 128.0h.01M87.8 139.0h.01M89.5 120.8h.01M86.2 119.4h.01M86.8 120.8h.01M87.9 117.4h.01M87.9 115.5h.01M88.3 121.7h.01M86.3 119.1h.01M84.0 120.1h.01M88.4 114.6h.01M89.9 117.8h.01M83.9 113.6h.01M88.4 116.7h.01M88.8 113.1h.01M86.7 120.3h.01M85.7 119.4h.01M86.3 118.5h.01M87.5 123.8h.01M84.7 119.7h.01M89.2 114.3h.01M87.0 124.0h.01M88.7 109.1h.01M86.5 112.7h.01M87.4 115.5h.01M85.9 115.1h.01M87.4 116.2h.01M85.3 116.9h.01M87.6 115.1h.01M88.8 112.8h.01M87.6 116.4h.01M89.7 115.7h.01M85.7 113.7h.01M90.4 119.2h.01M85.0 116.6h.01M85.2 121.8h.01M87.6 111.8h.01M87.3 120.1h.01M86.9 118.8h.01M86.7 118.1h.01M87.3 115.5h.01M87.5 118.0h.01M86.8 115.6h.01M85.1 118.2h.01M88.3 110.7h.01M86.0 121.3h.01M88.5 115.5h.01M89.3 114.7h.01M85.5 123.0h.01M86.1 116.9h.01M84.0 114.7h.01M84.8 117.1h.01M83.7 120.5h.01M86.3 115.8h.01M85.8 119.6h.01M89.6 116.4h.01M89.7 122.0h.01M89.2 118.3h.01M84.3 119.4h.01M86.2 118.0h.01M83.6 116.7h.01M87.3 114.9h.01M87.4 122.2h.01M87.3 115.6h.01M91.1 111.4h.01M85.3 118.7h.01M85.9 111.0h.01M87.4 119.8h.01M85.5 121.6h.01M87.8 120.9h.01M84.2 117.5h.01M89.7 123.2h.01M89.2 117.5h.01M87.2 115.7h.01M88.8 115.5h.01M87.1 111.7h.01M84.3 122.5h.01M87.0 118.1h.01M83.0 117.4h.01M90.5 113.3h.01M82.7 117.0h.01M86.0 116.9h.01M84.7 113.7h.01M84.7 119.3h.01M86.8 119.8h.01M85.0 119.2h.01M86.1 117.8h.01M88.5 117.6h.01M86.3 112.8h.01M87.0 119.7h.01M85.8 117.3h.01M83.8 113.7h.01M87.6 121.2h.01M86.4 112.8h.01M86.2 113.1h.01M86.4 123.0h.01M87.4 117.1h.01M88.7 116.4h.01M87.5 118.1h.01M87.7 113.3h.01M88.2 120.0h.01M82.9 109.8h.01M85.3 121.7h.01M86.9 119.4h.01M87.9 120.0h.01M85.8 115.8h.01M87.6 119.2h.01M87.9 118.5h.01M86.0 120.6h.01M87.7 120.5h.01M82.4 120.4h.01M82.6 118.1h.01M85.7 117.8h.01M86.1 116.6h.01M87.2 118.5h.01M85.5 110.3h.01M85.5 119.0h.01M85.4 118.7h.01M86.2 114.8h.01M89.0 122.2h.01M86.7 117.4h.01M88.6 113.7h.01M85.4 120.7h.01M88.5 116.1h.01M85.5 118.5h.01M84.4 116.1h.01M86.5 110.4h.01M88.0 119.7h.01M88.8 113.4h.01M84.6 115.2h.01M84.6 123.4h.01M85.2 116.6h.01M87.3 118.8h.01M89.5 114.4h.01M88.5 117.9h.01M84.8 117.9h.01M84.4 122.2h.01M85.6 120.4h.01M89.2 115.7h.01M85.3 117.9h.01M85.0 120.1h.01M87.2 115.3h.01M85.7 119.6h.01M84.3 122.4h.01M85.5 116.9h.01M85.2 122.2h.01M88.4 121.3h.01M88.1 117.8h.01M89.9 119.4h.01M87.7 119.2h.01M88.2 118.3h.01M86.6 112.9h.01M90.6 113.7h.01M83.0 115.4h.01M90.4 121.0h.01M85.8 118.3h.01M86.9 111.8h.01M86.3 118.3h.01M89.0 114.0h.01M82.9 112.9h.01M87.5 117.7h.01M87.2 117.9h.01M86.2 113.5h.01M87.7 118.6h.01M87.9 121.1h.01M84.7 110.7h.01M83.7 123.7h.01M85.3 118.7h.01M86.9 119.6h.01M92.7 116.0h.01M86.6 115.8h.01M87.3 119.0h.01M85.2 121.3h.01M89.0 118.8h.01M86.7 116.8h.01M83.9 119.4h.01M85.1 116.0h.01M88.7 114.8h.01M86.0 120.0h.01M90.2 115.5h.01M88.9 115.6h.01M87.6 118.9h.01M84.9 120.5h.01M90.1 117.7h.01M87.4 114.1h.01M90.1 117.7h.01M84.6 119.7h.01M84.3 115.5h.01M83.1 121.5h.01M90.9 115.7h.01M85.7 115.8h.01M85.9 119.1h.01M89.5 114.6h.01M87.7 112.3h.01M89.6 117.2h.01M85.6 121.9h.01M86.7 121.5h.01M88.8 122.3h.01M85.5 117.7h.01M87.6 116.9h.01M89.6 115.4h.01M88.7 121.5h.01M83.4 114.7h.01M85.3 115.9h.01M87.6 117.0h.01M87.0 116.2h.01M86.8 118.9h.01M88.2 115.2h.01M86.7 115.3h.01M86.6 113.3h.01M88.6 119.4h.01M86.7 115.5h.01M86.1 115.6h.01M84.1 122.2h.01M92.8 113.9h.01M84.8 119.2h.01M88.0 112.9h.01M83.4 119.1h.01M83.3 121.6h.01M86.0 117.7h.01M86.9 115.9h.01M86.6 116.6h.01M89.1 117.2h.01M86.8 116.0h.01M85.8 115.4h.01M86.9 122.8h.01M88.9 118.2h.01M89.9 120.4h.01M87.3 117.0h.01M84.9 118.2h.01M86.3 112.9h.01M84.6 123.1h.01M87.3 118.9h.01M87.3 116.2h.01M87.7 120.6h.01M86.3 119.0h.01M88.7 116.1h.01M87.2 115.4h.01M88.0 116.4h.01M89.0 115.3h.01M89.9 116.6h.01M85.4 114.9h.01M88.1 115.0h.01M90.1 121.2h.01M87.8 113.4h.01M86.9 115.4h.01M83.6 118.7h.01M90.9 115.9h.01M88.4 121.2h.01M85.2 116.5h.01M87.4 118.9h.01M84.8 118.1h.01M86.7 120.3h.01M84.0 115.9h.01M86.0 116.6h.01M88.2 115.7h.01M91.8 115.4h.01M88.4 120.5h.01M88.6 116.9h.01M85.4 116.8h.01M88.1 117.9h.01M87.9 119.2h.01M85.3 114.8h.01M89.5 116.1h.01M84.0 122.9h.01M85.4 114.8h.01M88.6 114.2h.01M85.3 120.5h.01M85.4 124.8h.01M87.1 125.3h.01M87.1 117.7h.01M85.7 116.9h.01M86.0 117.4h.01M88.3 113.8h.01M85.2 111.4h.01M89.6 117.3h.01M86.9 117.3h.01M88.7 118.4h.01M88.4 117.0h.01M86.7 117.3h.01M83.5 120.7h.01M84.1 114.6h.01M88.1 117.7h.01M88.4 122.4h.01M90.3 121.5h.01M86.5 123.4h.01M85.3 117.2h.01M88.7 116.9h.01M86.7 116.5h.01M89.4 110.3h.01M89.2 120.6h.01M86.8 119.1h.01M85.2 120.7h.01M92.4 114.8h.01M89.4 117.3h.01M86.3 116.1h.01M86.6 113.9h.01M84.5 122.3h.01M86.9 119.1h.01M87.5 118.9h.01M84.2 114.7h.01M88.0 120.4h.01M84.8 115.8h.01M85.0 119.4h.01M87.5 117.6h.01M85.7 118.5h.01M87.0 115.3h.01M87.5 115.6h.01M88.6 119.3h.01M85.7 119.2h.01M87.0 115.5h.01M85.3 112.7h.01M84.9 118.5h.01M89.1 115.7h.01M87.2 118.5h.01M88.3 118.8h.01M89.1 119.7h.01M85.5 118.7h.01M82.7 117.0h.01M86.9 119.2h.01M86.4 119.9h.01M89.3 115.1h.01M85.9 118.3h.01M87.8 117.9h.01M88.4 114.1h.01M88.3 120.9h.01M88.9 118.7h.01M86.5 118.7h.01M86.8 112.9h.01M85.8 117.4h.01M86.0 114.8h.01M86.5 116.4h.01M98.3 116.7h.01M98.8 119.1h.01M98.6 117.7h.01M92.5 110.0h.01M96.2 118.4h.01M96.5 115.4h.01M92.4 118.9h.01M95.6 117.4h.01M103.1 118.0h.01M108.1 116.5h.01M102.3 118.4h.01M95.1 116.9h.01M95.5 114.4h.01M99.3 115.0h.01M105.6 115.1h.01M95.6 117.0h.01M95.7 116.9h.01M95.3 113.5h.01M87.1 113.8h.01M104.8 117.8h.01M98.7 115.7h.01M97.3 117.5h.01M91.7 115.0h.01M94.0 119.7h.01M93.2 119.5h.01M95.9 123.1h.01M97.6 116.9h.01M104.1 118.8h.01M102.2 114.3h.01M103.1 120.7h.01M97.5 115.7h.01M93.1 119.1h.01M99.3 116.8h.01M92.4 120.5h.01M101.9 116.8h.01M104.6 114.6h.01M102.0 114.5h.01M104.3 116.2h.01M103.5 115.8h.01M99.8 119.4h.01M93.9 117.0h.01M94.2 118.8h.01M95.3 115.9h.01M97.1 119.5h.01M93.3 116.7h.01M96.5 115.5h.01M94.5 116.4h.01M98.9 113.2h.01M99.1 114.1h.01M98.1 122.0h.01M93.6 116.6h.01M96.9 119.1h.01M95.9 112.7h.01M90.8 117.2h.01M99.1 119.3h.01M95.6 118.3h.01M93.2 119.8h.01M97.7 115.2h.01M98.8 120.8h.01M94.2 113.9h.01M92.9 127.5h.01M96.8 132.1h.01M96.3 131.6h.01M101.7 130.1h.01M92.0 124.1h.01M98.0 129.0h.01M96.0 132.2h.01M98.9 126.3h.01M79.3 124.4h.01M81.6 130.9h.01M80.6 111.6h.01M85.3 114.2h.01M79.3 126.3h.01M79.0 138.9h.01M82.7 127.2h.01M80.8 137.3h.01M83.5 119.7h.01M85.5 113.9h.01M80.4 125.7h.01M82.4 118.2h.01M86.4 132.8h.01M79.4 126.2h.01M80.2 121.4h.01M84.8 124.8h.01M81.7 124.6h.01M78.7 131.3h.01M79.9 131.9h.01M80.7 121.3h.01M86.2 125.1h.01M80.2 120.8h.01M83.7 135.2h.01M83.7 121.6h.01M78.9 120.0h.01M81.7 125.5h.01M80.2 131.7h.01M79.3 119.7h.01M83.4 126.9h.01M80.9 129.8h.01M78.1 133.8h.01M88.1 135.7h.01M82.3 135.8h.01M82.2 132.0h.01M81.4 125.2h.01M83.5 113.5h.01M81.4 134.3h.01M84.6 126.0h.01M82.5 132.3h.01M82.9 112.6h.01M79.4 122.2h.01M82.4 121.3h.01M81.7 134.0h.01M84.6 127.6h.01M82.0 124.4h.01M83.0 125.5h.01M80.0 128.7h.01M79.7 123.8h.01M81.0 117.1h.01M83.7 123.6h.01M78.7 123.5h.01M78.1 132.6h.01M83.4 135.9h.01M80.4 128.2h.01M79.3 118.9h.01M81.8 126.5h.01M84.6 122.4h.01M85.1 129.8h.01" stroke="#000" stroke-width="0.85" stroke-linecap="round" fill="none"/>
<rect x="74.1" y="96.2" width="50.0" height="43.9" fill="none" stroke="#1a1a1a" stroke-width="1"/>
<path d="M91.4 96.2V140.1M74.1 123.4H124.1" stroke="#1a1a1a" stroke-width="1" fill="none"/>
<text x="76.69999999999999" y="103.4" font-size="6.6" text-anchor="start" >36.2</text>
<text x="123.3" y="103.4" font-size="6.6" text-anchor="end" >7.4</text>
<text x="123.3" y="138.2" font-size="6.6" text-anchor="end" >0.9</text>
<text x="43.5" y="207.5" font-size="8" text-anchor="middle" >Spleen</text>
<path d="M26.8 244.4h.01M26.7 248.4h.01M27.4 246.7h.01M29.8 244.3h.01M27.5 245.5h.01M27.0 242.2h.01M26.7 245.5h.01M28.6 248.5h.01M25.2 245.9h.01M26.3 247.2h.01M29.5 245.1h.01M30.8 244.0h.01M27.4 242.6h.01M27.2 245.0h.01M29.4 247.5h.01M27.8 243.3h.01M27.7 243.9h.01M27.5 244.0h.01M26.8 244.7h.01M27.4 244.4h.01M26.0 245.1h.01M29.3 246.2h.01M27.4 242.4h.01M26.1 242.4h.01M27.2 244.2h.01M25.3 246.2h.01M25.7 243.4h.01M27.1 246.5h.01M31.4 244.1h.01M27.8 244.0h.01M28.0 244.4h.01M32.5 242.5h.01M28.1 243.2h.01M28.9 243.7h.01M29.3 242.6h.01M31.9 245.2h.01M25.3 246.3h.01M27.5 242.4h.01M29.0 243.7h.01M29.5 243.7h.01M29.8 245.1h.01M28.9 245.1h.01M27.7 244.1h.01M29.1 246.3h.01M27.6 249.4h.01M31.1 242.4h.01M30.1 244.7h.01M28.7 243.2h.01M31.1 243.1h.01M28.2 243.3h.01M31.5 247.4h.01M26.1 243.9h.01M28.9 243.9h.01M27.7 242.6h.01M28.7 242.5h.01M29.7 249.8h.01M27.8 248.2h.01M28.9 243.4h.01M27.7 242.8h.01M28.5 246.3h.01M29.9 244.2h.01M26.3 244.6h.01M31.1 245.4h.01M28.2 240.5h.01M27.6 245.9h.01M26.7 247.6h.01M27.4 243.0h.01M27.3 244.6h.01M30.0 243.6h.01M25.3 244.6h.01M29.2 248.0h.01M26.4 247.9h.01M29.4 245.7h.01M27.0 243.0h.01M26.7 246.7h.01M28.7 247.0h.01M31.3 244.8h.01M28.2 248.8h.01M26.1 243.9h.01M27.7 244.0h.01M28.5 243.1h.01M30.2 242.0h.01M26.9 241.3h.01M26.0 246.0h.01M29.4 244.4h.01M29.7 246.1h.01M27.3 244.7h.01M28.9 248.9h.01M27.6 245.6h.01M29.2 247.3h.01M29.0 247.0h.01M26.5 244.3h.01M25.1 244.7h.01M32.2 245.3h.01M28.4 245.4h.01M28.5 242.1h.01M27.1 244.5h.01M28.6 243.0h.01M28.1 243.3h.01M26.1 243.5h.01M27.0 246.5h.01M30.5 246.0h.01M27.9 243.7h.01M25.7 243.7h.01M30.9 247.2h.01M28.7 244.3h.01M28.3 245.7h.01M28.3 245.7h.01M27.0 244.9h.01M27.7 247.0h.01M26.2 247.5h.01M28.2 243.8h.01M28.3 245.1h.01M27.9 245.7h.01M27.3 241.3h.01M29.5 244.8h.01M31.1 245.6h.01M25.0 247.4h.01M27.2 245.9h.01M32.0 247.1h.01M26.5 244.6h.01M25.6 246.2h.01M29.2 242.7h.01M29.1 246.7h.01M29.6 243.4h.01M27.1 242.5h.01M26.1 245.5h.01M28.4 247.5h.01M28.8 244.2h.01M25.9 248.0h.01M28.6 244.8h.01M26.6 242.7h.01M29.4 242.8h.01M29.3 246.1h.01M27.7 241.5h.01M29.0 247.7h.01M26.9 242.2h.01M30.1 245.1h.01M27.3 247.3h.01M27.8 245.7h.01M27.6 243.3h.01M28.7 243.1h.01M25.3 243.7h.01M30.4 247.1h.01M31.9 246.8h.01M31.0 245.3h.01M27.6 245.8h.01M26.7 246.3h.01M27.6 245.3h.01M26.9 244.5h.01M29.9 244.4h.01M27.2 245.4h.01M29.8 244.4h.01M26.4 241.6h.01M26.1 247.0h.01M28.2 245.8h.01M30.1 245.4h.01M29.1 243.8h.01M25.6 246.1h.01M28.1 246.0h.01M26.5 244.5h.01M31.7 243.1h.01M28.5 247.5h.01M27.9 245.1h.01M24.7 246.4h.01M27.6 247.4h.01M28.1 244.1h.01M29.0 244.3h.01M27.4 248.0h.01M29.9 245.0h.01M29.6 246.5h.01M29.3 244.9h.01M28.4 245.7h.01M29.2 245.5h.01M27.4 244.7h.01M29.1 242.8h.01M28.3 246.4h.01M28.6 244.2h.01M28.3 243.8h.01M29.9 244.1h.01M25.5 242.4h.01M28.8 245.3h.01M27.5 242.2h.01M28.1 243.1h.01M27.2 244.8h.01M27.0 245.5h.01M27.1 243.9h.01M27.9 247.8h.01M30.9 246.7h.01M27.1 244.8h.01M29.8 246.5h.01M25.6 244.7h.01M27.1 246.3h.01M29.4 243.8h.01M31.9 244.3h.01M32.4 244.5h.01M28.2 248.6h.01M27.4 243.9h.01M30.8 244.8h.01M29.1 242.3h.01M31.3 246.8h.01M28.9 246.3h.01M27.5 243.9h.01M25.7 245.6h.01M30.4 246.6h.01M29.8 246.3h.01M26.8 242.2h.01M29.4 245.2h.01M29.9 244.3h.01M26.8 245.7h.01M27.4 241.5h.01M27.3 243.1h.01M26.4 243.7h.01M29.9 249.5h.01M31.2 244.0h.01M30.2 244.7h.01M29.0 243.5h.01M28.2 241.5h.01M31.3 243.3h.01M29.3 243.7h.01M28.7 242.5h.01M27.7 246.7h.01M29.3 240.9h.01M29.7 242.2h.01M28.8 245.9h.01M27.2 244.2h.01M27.9 245.6h.01M29.8 247.6h.01M28.8 248.8h.01M26.7 248.4h.01M27.9 246.4h.01M28.1 245.0h.01M26.8 245.6h.01M31.7 245.1h.01M28.3 244.8h.01M29.5 244.4h.01M28.3 245.3h.01M30.5 246.7h.01M26.5 243.6h.01M28.3 246.5h.01M29.9 244.4h.01M31.8 244.5h.01M30.6 247.7h.01M31.0 245.2h.01M29.3 241.8h.01M25.3 243.6h.01M29.5 247.0h.01M28.1 246.9h.01M29.3 247.9h.01M25.7 243.2h.01M26.7 242.8h.01M31.0 243.0h.01M26.9 244.0h.01M29.8 243.9h.01M29.5 245.9h.01M27.2 240.1h.01M26.8 242.3h.01M31.0 243.4h.01M26.5 245.6h.01M28.4 243.0h.01M30.1 246.7h.01M28.8 243.3h.01M26.8 240.7h.01M28.9 245.6h.01M26.8 244.9h.01M33.8 242.6h.01M25.5 246.0h.01M27.6 243.8h.01M29.3 244.6h.01M30.0 245.9h.01M30.2 245.1h.01M24.7 247.5h.01M25.5 246.9h.01M28.7 242.1h.01M28.4 246.6h.01M26.6 244.9h.01M27.1 242.8h.01M27.3 247.4h.01M29.4 244.8h.01M28.2 245.1h.01M28.8 245.2h.01M25.4 246.7h.01M26.9 239.6h.01M29.5 242.4h.01M28.1 244.6h.01M27.3 245.9h.01M27.8 244.3h.01M26.7 244.3h.01M26.6 244.9h.01M30.5 246.8h.01M29.0 242.1h.01M30.0 246.7h.01M31.7 240.3h.01M28.3 244.2h.01M30.1 242.7h.01M27.7 249.5h.01M30.0 240.8h.01M28.3 247.6h.01M27.3 246.0h.01M28.5 241.9h.01M27.3 247.1h.01M30.3 243.6h.01M30.2 243.4h.01M28.7 244.8h.01M26.2 245.5h.01M27.7 239.3h.01M26.9 243.1h.01M26.9 242.9h.01M27.1 239.9h.01M29.8 245.0h.01M28.7 244.3h.01M28.4 244.3h.01M26.5 241.8h.01M28.4 246.9h.01M28.7 248.0h.01M26.0 244.3h.01M27.3 247.3h.01M31.1 243.8h.01M29.5 244.3h.01M26.6 244.6h.01M26.6 247.9h.01M29.3 247.2h.01M28.9 239.9h.01M29.6 245.0h.01M24.3 245.0h.01M30.0 248.2h.01M26.6 246.4h.01M28.9 244.5h.01M27.8 245.9h.01M29.3 246.1h.01M27.6 242.2h.01M30.5 247.4h.01M27.4 244.7h.01M29.7 241.3h.01M29.1 249.7h.01M28.8 243.4h.01M31.7 244.8h.01M28.7 244.0h.01M28.6 241.2h.01M26.2 241.8h.01M29.8 244.6h.01M30.2 240.7h.01M27.3 247.7h.01M27.0 241.1h.01M27.1 244.1h.01M28.3 247.4h.01M30.5 247.9h.01M29.3 243.8h.01M27.5 241.8h.01M30.4 247.3h.01M28.4 243.0h.01M29.4 245.8h.01M28.6 242.5h.01M28.7 243.7h.01M29.5 246.0h.01M29.0 243.9h.01M30.8 246.4h.01M30.4 246.5h.01M29.4 245.6h.01M26.5 241.1h.01M26.7 246.0h.01M29.8 245.2h.01M28.4 248.5h.01M27.6 241.2h.01M25.7 244.2h.01M29.5 246.3h.01M27.9 246.4h.01M28.2 243.3h.01M27.7 246.3h.01M29.9 242.5h.01M26.7 245.0h.01M31.8 242.4h.01M26.2 245.6h.01M29.1 243.6h.01M28.3 245.8h.01M25.4 244.8h.01M29.3 246.7h.01M30.2 244.7h.01M25.9 247.5h.01M29.6 243.5h.01M30.0 246.9h.01M28.1 240.1h.01M27.5 243.3h.01M26.9 244.6h.01M26.5 245.6h.01M31.4 242.4h.01M30.0 243.7h.01M29.2 244.5h.01M30.4 243.4h.01M29.5 243.2h.01M28.7 244.8h.01M30.1 241.6h.01M26.1 247.6h.01M28.9 248.2h.01M26.6 245.2h.01M29.3 248.4h.01M28.2 243.9h.01M29.5 244.6h.01M27.1 246.3h.01M25.1 242.8h.01M30.6 243.8h.01M27.8 245.5h.01M30.2 245.9h.01M26.7 243.7h.01M30.0 244.6h.01M27.3 246.6h.01M30.2 249.2h.01M26.5 243.4h.01M27.1 245.5h.01M27.5 247.0h.01M23.8 246.7h.01M27.2 244.2h.01M29.2 245.2h.01M26.6 247.8h.01M29.3 243.8h.01M28.6 242.6h.01M26.3 244.2h.01M28.9 245.0h.01M27.0 242.0h.01M25.5 248.0h.01M28.9 243.2h.01M30.3 245.9h.01M27.6 243.6h.01M30.2 245.5h.01M31.0 245.5h.01M27.3 243.6h.01M27.1 245.3h.01M28.7 246.0h.01M29.0 242.7h.01M28.0 242.9h.01M29.1 242.2h.01M27.3 243.1h.01M27.3 244.3h.01M30.8 244.3h.01M25.9 244.2h.01M29.5 245.9h.01M28.7 248.8h.01M30.1 245.0h.01M30.3 242.1h.01M28.0 243.1h.01M30.6 240.0h.01M29.5 240.0h.01M28.7 239.6h.01M27.7 233.9h.01M31.9 235.8h.01M30.5 236.0h.01M30.6 235.6h.01M28.8 235.3h.01M30.5 233.8h.01M31.0 240.4h.01M27.7 234.6h.01M29.9 236.0h.01M30.4 234.2h.01M30.2 236.0h.01M30.2 239.8h.01M30.5 232.3h.01M27.9 237.5h.01M29.8 234.5h.01M28.2 235.2h.01M30.2 234.3h.01M29.8 238.2h.01M31.5 237.4h.01M30.0 232.6h.01M31.5 239.7h.01M32.3 238.9h.01M30.7 236.9h.01M30.3 239.1h.01M29.9 241.4h.01M31.5 235.2h.01M30.3 232.0h.01M29.2 235.3h.01M34.1 234.0h.01M31.7 236.2h.01M29.8 237.6h.01M27.2 238.4h.01M33.3 236.7h.01M30.2 236.4h.01M31.3 234.8h.01M30.5 237.3h.01M29.8 237.0h.01M30.8 237.8h.01M28.8 234.7h.01M29.6 239.0h.01M30.7 231.9h.01M28.3 240.8h.01M30.8 232.8h.01M28.9 236.4h.01M32.5 240.0h.01M29.7 235.3h.01M33.3 233.6h.01M32.7 236.8h.01M30.4 239.2h.01M31.1 233.9h.01M27.9 236.0h.01M31.1 239.4h.01M31.9 236.9h.01M44.4 237.4h.01M45.1 233.6h.01M43.7 234.1h.01M39.6 232.7h.01M42.5 231.7h.01M36.3 228.8h.01M44.0 234.5h.01M44.4 242.2h.01M47.3 244.1h.01M35.9 248.8h.01M38.2 250.4h.01M46.1 243.9h.01M34.9 243.3h.01M49.8 248.3h.01M45.0 240.9h.01M42.5 244.3h.01M45.8 244.7h.01M45.3 241.1h.01M41.5 248.5h.01M38.4 247.2h.01M53.0 246.6h.01M38.6 248.0h.01M36.8 245.8h.01M23.9 249.6h.01M28.2 246.5h.01M29.9 248.8h.01M23.7 243.2h.01M31.7 244.8h.01M26.1 245.7h.01M23.7 241.4h.01M24.6 245.7h.01M27.7 244.5h.01M20.7 242.9h.01M24.9 246.7h.01M27.0 244.9h.01M26.5 246.4h.01M29.6 245.8h.01M25.4 247.6h.01M28.3 243.3h.01M23.7 245.2h.01M19.2 249.8h.01M27.9 246.1h.01M34.2 249.7h.01M30.5 250.5h.01M27.5 241.9h.01M29.2 247.2h.01M21.7 246.2h.01M27.1 248.8h.01M25.5 244.5h.01M27.1 243.8h.01M24.8 248.2h.01M21.1 247.1h.01M19.7 243.3h.01M21.7 245.7h.01M26.9 245.9h.01M27.5 246.3h.01M24.4 247.4h.01M24.4 246.4h.01M27.8 244.4h.01M28.1 242.8h.01M24.4 241.0h.01M23.6 250.6h.01M26.0 249.7h.01M21.0 243.1h.01M26.3 248.4h.01M27.3 241.2h.01M26.4 245.8h.01M25.3 247.4h.01" stroke="#000" stroke-width="0.85" stroke-linecap="round" fill="none"/>
<rect x="17.5" y="211.7" width="49.1" height="43.8" fill="none" stroke="#1a1a1a" stroke-width="1"/>
<path d="M35.6 211.7V255.5M17.5 239.1H66.6" stroke="#1a1a1a" stroke-width="1" fill="none"/>
<text x="20.1" y="218.89999999999998" font-size="6.6" text-anchor="start" >9.3</text>
<text x="65.8" y="218.89999999999998" font-size="6.6" text-anchor="end" >1.2</text>
<text x="65.8" y="254.0" font-size="6.6" text-anchor="end" >3.1</text>
<text x="97.9" y="207.5" font-size="8" text-anchor="middle" >PLN</text>
<path d="M83.2 241.2h.01M81.5 241.7h.01M81.0 244.1h.01M86.6 243.0h.01M82.2 242.2h.01M80.1 244.4h.01M82.8 243.9h.01M81.7 245.2h.01M81.2 245.3h.01M82.4 245.7h.01M81.9 245.1h.01M84.7 244.2h.01M87.3 244.6h.01M81.9 245.6h.01M82.0 243.3h.01M83.8 244.6h.01M87.5 241.1h.01M83.2 246.4h.01M83.5 244.9h.01M87.1 242.0h.01M83.9 245.8h.01M82.5 241.1h.01M81.7 244.7h.01M84.2 247.7h.01M86.6 241.5h.01M86.0 246.0h.01M87.3 244.0h.01M82.6 244.6h.01M87.1 245.4h.01M87.4 245.7h.01M82.5 242.4h.01M87.8 241.5h.01M83.1 243.7h.01M81.8 243.3h.01M83.8 248.7h.01M83.7 243.3h.01M84.1 246.0h.01M82.1 243.6h.01M80.1 245.6h.01M85.3 247.1h.01M81.2 248.3h.01M85.7 243.8h.01M83.0 243.7h.01M81.2 245.7h.01M82.5 243.0h.01M84.9 244.5h.01M82.5 243.9h.01M82.7 246.8h.01M85.9 243.0h.01M83.7 246.8h.01M83.2 247.6h.01M84.8 245.5h.01M79.3 245.9h.01M84.5 245.4h.01M84.8 245.3h.01M82.7 246.0h.01M83.9 242.4h.01M81.6 244.6h.01M84.5 240.2h.01M79.4 246.2h.01M83.8 249.5h.01M80.5 243.8h.01M82.5 245.3h.01M86.8 247.3h.01M81.6 246.6h.01M81.2 244.9h.01M84.2 245.4h.01M82.1 246.8h.01M83.7 244.3h.01M83.2 242.3h.01M85.3 244.9h.01M84.8 247.7h.01M81.9 243.8h.01M83.8 245.9h.01M83.4 246.0h.01M84.8 241.1h.01M82.3 240.6h.01M83.2 243.5h.01M85.1 244.6h.01M83.7 246.6h.01M85.1 242.0h.01M82.3 244.9h.01M87.5 243.9h.01M83.4 244.8h.01M85.5 244.1h.01M84.4 243.5h.01M82.6 242.8h.01M85.2 243.3h.01M85.0 245.0h.01M85.9 239.4h.01M81.7 242.1h.01M83.4 245.8h.01M89.2 247.1h.01M86.7 245.0h.01M83.0 245.3h.01M79.1 246.0h.01M83.8 245.4h.01M81.6 242.3h.01M82.4 244.2h.01M84.6 243.6h.01M84.6 245.6h.01M81.3 244.1h.01M80.5 243.3h.01M85.7 243.0h.01M87.8 245.2h.01M85.7 244.5h.01M85.7 246.3h.01M84.0 243.3h.01M82.6 247.9h.01M83.4 243.5h.01M82.3 241.2h.01M82.7 244.9h.01M82.8 242.9h.01M84.7 245.1h.01M82.9 244.9h.01M81.7 245.9h.01M81.7 243.7h.01M84.1 243.5h.01M81.3 248.2h.01M87.1 241.1h.01M84.1 242.0h.01M84.5 241.9h.01M85.0 245.3h.01M87.5 246.5h.01M82.8 246.0h.01M82.8 244.1h.01M82.7 241.0h.01M85.1 240.5h.01M83.3 245.3h.01M84.0 241.4h.01M82.4 245.6h.01M86.2 247.3h.01M79.9 245.2h.01M82.8 245.7h.01M80.2 244.0h.01M85.3 243.1h.01M83.0 242.5h.01M86.2 241.8h.01M81.8 243.7h.01M83.1 248.2h.01M84.4 242.8h.01M85.0 244.9h.01M84.4 244.2h.01M84.8 242.1h.01M81.2 243.5h.01M81.4 245.6h.01M88.0 246.6h.01M84.8 244.9h.01M82.3 241.9h.01M85.0 241.6h.01M84.4 244.0h.01M85.4 244.4h.01M84.0 243.2h.01M80.1 243.7h.01M85.3 246.2h.01M86.8 242.5h.01M81.8 245.6h.01M82.8 249.1h.01M84.5 241.5h.01M82.6 247.2h.01M79.9 244.6h.01M80.8 247.3h.01M82.8 242.4h.01M80.1 243.0h.01M78.3 243.4h.01M88.5 244.5h.01M83.2 242.2h.01M84.5 243.4h.01M82.0 246.9h.01M84.7 242.7h.01M87.0 244.2h.01M84.9 244.6h.01M86.3 245.4h.01M83.1 245.6h.01M83.0 244.5h.01M87.3 242.3h.01M81.6 243.6h.01M82.7 246.7h.01M80.4 248.5h.01M87.2 243.5h.01M84.2 243.6h.01M85.2 245.5h.01M85.4 245.7h.01M88.0 244.0h.01M85.3 244.0h.01M83.9 244.7h.01M83.7 244.9h.01M82.0 244.0h.01M82.5 242.1h.01M82.3 243.4h.01M83.5 241.4h.01M83.2 242.2h.01M82.0 244.7h.01M86.2 244.8h.01M82.7 243.5h.01M86.7 241.3h.01M86.3 241.5h.01M82.4 244.4h.01M83.3 247.4h.01M84.9 244.2h.01M85.9 244.4h.01M82.1 246.4h.01M87.0 246.7h.01M81.3 247.8h.01M82.9 245.7h.01M86.4 248.7h.01M80.3 242.4h.01M86.3 245.2h.01M83.1 238.9h.01M84.7 244.0h.01M78.2 249.3h.01M78.4 243.3h.01M83.8 244.7h.01M85.4 243.8h.01M81.9 243.6h.01M79.3 242.2h.01M88.1 243.0h.01M83.6 247.8h.01M86.1 244.5h.01M85.4 243.8h.01M81.8 246.2h.01M84.1 247.3h.01M83.2 243.6h.01M84.5 243.9h.01M83.1 242.6h.01M84.3 244.9h.01M87.7 244.3h.01M80.0 245.2h.01M88.7 243.5h.01M82.1 244.0h.01M77.6 243.7h.01M83.4 241.5h.01M85.0 242.7h.01M79.8 243.0h.01M85.2 247.9h.01M86.5 244.7h.01M82.7 243.8h.01M85.9 243.3h.01M84.7 246.1h.01M81.8 243.2h.01M84.8 244.3h.01M83.5 243.3h.01M83.7 247.7h.01M86.7 241.3h.01M83.9 244.5h.01M83.9 241.7h.01M83.5 244.6h.01M82.3 244.9h.01M78.5 241.5h.01M84.0 245.0h.01M83.4 243.4h.01M84.2 246.3h.01M85.7 244.2h.01M82.8 246.3h.01M85.0 245.9h.01M83.2 242.7h.01M84.2 243.1h.01M86.3 245.9h.01M79.1 245.5h.01M86.7 246.2h.01M82.8 242.7h.01M85.9 246.2h.01M83.9 242.2h.01M80.5 244.8h.01M82.0 243.0h.01M84.8 246.3h.01M79.3 243.1h.01M86.6 244.2h.01M83.1 245.5h.01M81.3 242.0h.01M83.8 247.2h.01M86.0 244.3h.01M86.0 243.5h.01M81.3 241.2h.01M84.4 246.0h.01M84.6 244.2h.01M82.9 246.3h.01M83.7 241.6h.01M86.8 243.1h.01M84.6 244.3h.01M86.1 244.8h.01M86.4 244.7h.01M82.8 243.4h.01M85.2 242.8h.01M85.8 243.9h.01M81.8 242.7h.01M83.5 247.6h.01M85.5 244.3h.01M81.8 247.8h.01M83.2 244.3h.01M82.9 246.8h.01M84.2 243.4h.01M84.2 242.4h.01M81.5 244.0h.01M77.6 246.5h.01M88.1 242.2h.01M83.5 241.4h.01M84.2 244.7h.01M85.4 241.8h.01M82.5 243.1h.01M83.3 248.6h.01M83.4 244.2h.01M82.7 245.8h.01M89.3 246.5h.01M87.1 242.3h.01M86.1 244.4h.01M86.5 246.3h.01M85.2 241.2h.01M84.1 243.4h.01M84.8 244.4h.01M86.1 241.3h.01M82.2 244.2h.01M84.5 243.5h.01M83.7 244.4h.01M86.1 244.1h.01M84.3 240.9h.01M78.1 241.6h.01M84.6 240.0h.01M84.7 244.1h.01M83.8 242.9h.01M82.9 245.8h.01M84.6 244.3h.01M82.7 244.7h.01M86.4 244.3h.01M83.0 242.1h.01M84.0 242.6h.01M80.7 245.9h.01M82.5 240.5h.01M82.2 247.7h.01M83.6 241.8h.01M81.4 245.6h.01M84.7 244.7h.01M83.4 245.2h.01M87.1 245.2h.01M83.4 241.7h.01M84.8 247.2h.01M85.2 242.0h.01M84.2 246.7h.01M82.4 245.2h.01M86.4 247.4h.01M80.4 241.0h.01M84.6 245.6h.01M83.0 244.3h.01M82.9 246.5h.01M79.0 244.8h.01M81.0 243.0h.01M80.5 242.6h.01M83.7 244.3h.01M87.7 243.9h.01M84.5 245.0h.01M84.4 247.0h.01M84.1 244.6h.01M83.6 244.3h.01M83.7 246.2h.01M83.8 244.4h.01M83.7 245.7h.01M82.8 246.1h.01M82.6 245.6h.01M88.0 244.7h.01M83.6 242.1h.01M85.4 244.3h.01M85.8 243.1h.01M84.9 247.7h.01M84.7 243.7h.01M81.0 244.3h.01M85.2 245.4h.01M81.4 242.4h.01M81.7 242.4h.01M83.2 244.8h.01M88.0 244.7h.01M87.0 241.2h.01M87.1 245.8h.01M84.8 245.8h.01M85.1 247.9h.01M85.5 241.0h.01M80.0 247.3h.01M83.6 246.8h.01M83.1 243.1h.01M83.1 244.9h.01M84.2 243.1h.01M85.0 245.5h.01M81.8 242.2h.01M79.5 243.7h.01M83.8 243.0h.01M82.5 244.0h.01M83.9 245.4h.01M85.6 245.1h.01M86.2 242.5h.01M85.1 245.0h.01M81.5 243.0h.01M84.8 244.4h.01M81.1 243.3h.01M87.1 245.9h.01M84.0 246.8h.01M81.8 244.0h.01M85.9 243.7h.01M81.4 245.4h.01M87.3 239.5h.01M84.1 242.0h.01M83.2 241.6h.01M89.5 243.0h.01M83.9 243.0h.01M81.6 243.4h.01M84.3 247.6h.01M84.4 247.2h.01M81.5 244.4h.01M82.8 241.4h.01M91.9 243.8h.01M84.3 242.9h.01M82.5 242.4h.01M86.0 243.5h.01M83.5 244.6h.01M81.1 244.7h.01M83.4 245.1h.01M83.0 244.4h.01M84.9 246.1h.01M82.3 246.1h.01M81.7 243.9h.01M84.1 244.6h.01M78.4 242.5h.01M83.4 246.0h.01M82.3 247.1h.01M79.9 244.4h.01M85.0 244.3h.01M84.4 246.1h.01M82.0 245.4h.01M86.1 243.9h.01M78.8 242.1h.01M81.9 242.3h.01M84.7 242.8h.01M89.2 245.4h.01M81.0 243.8h.01M87.1 245.6h.01M81.6 246.2h.01M82.8 248.5h.01M82.6 245.4h.01M85.0 243.5h.01M83.5 246.5h.01M84.9 244.2h.01M84.8 247.6h.01M85.8 245.2h.01M84.5 241.4h.01M84.1 243.4h.01M85.4 243.2h.01M84.8 242.3h.01M85.7 242.9h.01M83.7 245.4h.01M83.1 244.3h.01M86.1 247.6h.01M79.9 242.6h.01M85.3 246.1h.01M82.8 244.5h.01M83.4 248.6h.01M83.4 242.1h.01M80.4 241.9h.01M86.6 243.6h.01M88.0 245.5h.01M84.6 245.5h.01M85.5 246.0h.01M81.7 243.3h.01M82.6 244.5h.01M83.3 242.0h.01M82.3 247.7h.01M88.4 242.7h.01M84.6 244.2h.01M82.0 245.6h.01M83.6 247.4h.01M84.8 243.7h.01M78.0 244.1h.01M85.6 243.0h.01M85.7 245.6h.01M80.0 243.9h.01M84.5 245.7h.01M84.1 244.3h.01M83.0 243.8h.01M83.8 242.3h.01M85.2 243.7h.01M84.9 243.3h.01M84.7 244.5h.01M85.7 245.2h.01M87.4 234.5h.01M85.9 234.4h.01M84.1 234.6h.01M87.6 236.0h.01M84.7 235.3h.01M87.1 232.7h.01M86.5 235.3h.01M87.1 235.2h.01M83.4 231.6h.01M88.9 234.2h.01M87.9 236.8h.01M86.1 233.0h.01M88.0 234.7h.01M86.8 235.6h.01M87.4 236.4h.01M83.9 232.6h.01M86.2 234.8h.01M87.2 234.6h.01M85.7 238.0h.01M88.0 236.6h.01M87.5 233.6h.01M85.9 234.7h.01M84.4 233.4h.01M86.2 232.9h.01M86.8 235.5h.01M85.7 234.3h.01M86.9 235.6h.01M86.5 232.9h.01M83.6 238.0h.01M85.0 234.2h.01M83.3 233.5h.01M84.9 236.1h.01M82.1 232.6h.01M85.4 234.0h.01M84.9 234.1h.01M91.8 232.8h.01M102.7 232.5h.01M95.9 235.7h.01M99.9 229.0h.01M96.7 244.5h.01M98.8 249.0h.01M96.2 245.6h.01M99.4 243.1h.01M97.1 247.5h.01M103.5 241.4h.01M101.8 245.3h.01M104.1 247.5h.01M106.8 246.8h.01M97.4 244.0h.01M76.0 247.6h.01M81.4 248.4h.01M81.0 241.6h.01M78.9 245.3h.01M80.4 248.3h.01M83.9 246.8h.01M76.7 246.7h.01M79.4 249.3h.01M83.0 244.7h.01M82.6 246.0h.01M81.3 250.0h.01M76.8 245.8h.01M84.3 243.8h.01M80.6 246.4h.01M78.9 242.1h.01M78.1 243.1h.01M83.0 246.7h.01M81.9 242.5h.01M81.4 246.4h.01M82.9 243.9h.01M82.2 250.0h.01M85.0 243.3h.01M76.9 241.7h.01M82.7 247.8h.01M80.9 243.5h.01M83.5 250.7h.01M79.9 245.6h.01M83.3 247.5h.01M83.7 244.8h.01M80.9 245.0h.01M78.4 245.1h.01M79.2 247.5h.01M79.2 246.2h.01M77.8 242.4h.01M84.0 243.1h.01M85.0 248.8h.01M78.8 246.1h.01M79.5 244.2h.01M83.5 245.6h.01M82.7 244.0h.01M78.1 249.9h.01M79.2 242.8h.01" stroke="#000" stroke-width="0.85" stroke-linecap="round" fill="none"/>
<rect x="74.1" y="211.6" width="50.0" height="44.0" fill="none" stroke="#1a1a1a" stroke-width="1"/>
<path d="M91.6 211.6V255.6M74.1 239.0H124.1" stroke="#1a1a1a" stroke-width="1" fill="none"/>
<text x="76.69999999999999" y="218.79999999999998" font-size="6.6" text-anchor="start" >7.4</text>
<text x="123.3" y="218.79999999999998" font-size="6.6" text-anchor="end" >0.4</text>
<text x="123.3" y="252.2" font-size="6.6" text-anchor="end" >1.4</text>
<text x="43.7" y="277.6" font-size="8" text-anchor="middle" >MLN</text>
<path d="M27.1 317.2h.01M27.1 313.5h.01M28.7 317.0h.01M27.0 314.3h.01M26.7 320.6h.01M27.0 318.6h.01M27.1 315.8h.01M23.4 315.4h.01M27.5 314.4h.01M26.6 312.2h.01M24.5 315.3h.01M26.1 314.8h.01M27.0 314.0h.01M26.0 318.8h.01M25.2 314.0h.01M26.8 312.6h.01M25.5 316.8h.01M29.2 315.3h.01M33.8 316.7h.01M29.8 313.3h.01M29.5 318.5h.01M26.7 318.7h.01M25.8 312.7h.01M27.3 313.3h.01M28.7 312.7h.01M27.6 311.0h.01M27.3 317.2h.01M26.9 315.6h.01M29.6 312.7h.01M24.9 315.2h.01M28.0 314.5h.01M25.5 317.5h.01M25.1 314.5h.01M27.3 316.5h.01M26.5 313.3h.01M31.4 313.3h.01M29.0 314.7h.01M26.5 314.9h.01M26.9 315.6h.01M22.4 314.9h.01M27.5 313.0h.01M26.6 319.8h.01M31.1 316.3h.01M27.9 314.4h.01M30.1 314.1h.01M25.8 316.4h.01M25.5 313.4h.01M30.3 311.7h.01M27.3 315.2h.01M27.9 312.0h.01M27.0 314.3h.01M31.2 317.1h.01M25.9 316.8h.01M28.7 314.8h.01M26.9 314.4h.01M24.4 313.7h.01M29.3 318.0h.01M31.1 314.2h.01M28.6 310.1h.01M26.9 312.4h.01M29.0 311.6h.01M25.4 312.7h.01M28.2 316.7h.01M25.6 318.7h.01M27.7 313.3h.01M28.1 315.0h.01M29.1 315.7h.01M31.7 317.4h.01M26.1 316.6h.01M28.9 313.0h.01M25.9 313.3h.01M22.5 316.3h.01M27.0 317.5h.01M26.3 315.2h.01M28.8 317.0h.01M28.0 312.9h.01M31.8 316.8h.01M30.1 318.3h.01M30.2 315.9h.01M28.3 316.3h.01M24.4 316.7h.01M25.5 315.9h.01M25.4 316.5h.01M26.5 320.1h.01M27.8 316.0h.01M25.6 314.4h.01M27.3 314.4h.01M26.6 313.2h.01M28.9 314.2h.01M25.8 315.8h.01M25.8 314.6h.01M26.4 313.1h.01M27.0 313.3h.01M24.9 315.7h.01M26.8 312.0h.01M26.6 315.4h.01M28.3 315.8h.01M27.9 316.2h.01M26.4 313.4h.01M28.6 314.2h.01M27.4 316.3h.01M29.3 317.5h.01M26.1 314.2h.01M28.5 312.1h.01M24.9 316.2h.01M26.2 313.1h.01M29.0 316.1h.01M29.2 314.3h.01M26.8 314.3h.01M28.0 310.9h.01M26.1 316.4h.01M25.9 314.9h.01M27.7 316.1h.01M26.5 312.7h.01M32.3 313.5h.01M30.8 311.4h.01M27.6 314.6h.01M31.1 319.2h.01M29.3 312.9h.01M25.8 313.5h.01M26.4 315.5h.01M25.9 314.5h.01M30.3 317.9h.01M23.8 313.1h.01M26.7 317.6h.01M26.8 318.9h.01M28.1 317.9h.01M25.7 314.4h.01M29.4 316.2h.01M23.7 314.4h.01M27.8 316.3h.01M26.2 318.6h.01M27.7 318.0h.01M28.2 315.2h.01M26.8 312.6h.01M29.1 316.5h.01M29.3 314.2h.01M25.4 314.2h.01M26.8 315.0h.01M29.4 313.1h.01M26.5 316.4h.01M29.2 319.5h.01M28.5 313.3h.01M25.4 313.4h.01M27.6 315.5h.01M27.3 313.8h.01M27.1 314.8h.01M28.6 315.2h.01M25.8 312.6h.01M30.3 314.8h.01M27.1 315.0h.01M29.6 314.4h.01M27.8 314.5h.01M28.6 312.9h.01M27.8 317.1h.01M29.7 316.3h.01M28.0 318.2h.01M28.8 317.9h.01M25.1 312.8h.01M29.0 314.5h.01M26.6 313.1h.01M30.3 312.6h.01M27.6 312.2h.01M27.1 319.6h.01M32.2 314.0h.01M25.4 318.3h.01M25.7 311.4h.01M28.1 312.8h.01M24.6 317.3h.01M26.0 312.8h.01M27.8 314.6h.01M29.6 315.2h.01M30.5 317.3h.01M30.9 317.3h.01M27.6 316.1h.01M27.5 311.8h.01M25.1 316.5h.01M22.8 313.3h.01M24.9 314.9h.01M25.4 315.5h.01M27.0 314.1h.01M25.8 310.5h.01M27.6 312.4h.01M26.9 315.8h.01M29.5 316.4h.01M30.3 312.1h.01M28.8 318.2h.01M28.2 312.8h.01M28.2 314.0h.01M26.2 317.2h.01M27.1 312.7h.01M26.1 319.0h.01M25.8 316.4h.01M27.8 317.4h.01M26.9 313.1h.01M26.2 312.9h.01M32.5 315.4h.01M26.8 317.6h.01M28.7 314.6h.01M28.6 315.6h.01M29.6 318.4h.01M26.8 314.9h.01M27.1 317.5h.01M28.2 316.6h.01M29.2 313.7h.01M27.7 317.8h.01M29.2 316.7h.01M26.9 314.3h.01M25.8 314.5h.01M27.3 312.1h.01M29.7 313.5h.01M27.9 316.2h.01M26.4 311.3h.01M29.3 315.8h.01M26.9 317.3h.01M29.2 313.1h.01M27.3 311.4h.01M26.9 317.9h.01M25.8 316.7h.01M24.5 314.4h.01M29.3 318.5h.01M28.3 316.5h.01M30.8 310.0h.01M24.1 318.8h.01M32.2 316.2h.01M27.6 315.5h.01M27.5 313.8h.01M27.4 314.8h.01M28.7 316.4h.01M29.3 316.2h.01M25.5 317.8h.01M22.2 315.2h.01M28.1 313.9h.01M31.1 312.8h.01M25.2 314.0h.01M28.2 316.6h.01M27.6 316.4h.01M26.1 313.8h.01M27.7 312.3h.01M27.8 314.2h.01M28.8 313.0h.01M26.4 313.9h.01M26.7 313.0h.01M26.9 312.3h.01M28.5 316.4h.01M27.4 314.6h.01M25.7 313.1h.01M27.0 313.2h.01M25.1 315.3h.01M27.4 314.2h.01M25.9 314.9h.01M26.1 314.1h.01M27.8 316.5h.01M28.9 313.8h.01M29.8 312.7h.01M27.1 317.6h.01M32.0 315.3h.01M26.7 314.2h.01M25.1 314.7h.01M26.6 313.5h.01M29.8 313.4h.01M30.7 316.7h.01M28.7 313.8h.01M26.4 311.0h.01M28.0 314.5h.01M28.2 313.6h.01M28.4 312.0h.01M23.2 316.0h.01M29.5 308.6h.01M29.9 314.3h.01M27.1 311.9h.01M25.5 316.4h.01M26.0 314.9h.01M27.1 319.0h.01M29.2 312.3h.01M26.5 312.7h.01M24.7 313.6h.01M29.6 315.1h.01M28.7 314.7h.01M26.6 315.2h.01M27.3 318.9h.01M30.9 315.8h.01M28.6 311.0h.01M27.2 319.9h.01M25.9 316.7h.01M29.8 314.2h.01M27.0 314.1h.01M29.0 315.0h.01M30.3 317.4h.01M27.4 320.3h.01M26.8 313.8h.01M27.0 313.2h.01M26.6 314.9h.01M29.1 311.8h.01M24.7 313.4h.01M26.8 315.9h.01M25.9 318.1h.01M26.4 314.6h.01M27.5 317.4h.01M28.0 315.1h.01M26.4 315.3h.01M28.2 314.3h.01M27.4 311.3h.01M26.4 317.4h.01M30.2 314.9h.01M23.3 318.7h.01M27.1 320.2h.01M26.6 317.0h.01M26.2 317.8h.01M29.7 312.8h.01M29.9 320.8h.01M27.0 312.5h.01M28.0 314.2h.01M24.5 312.9h.01M27.9 311.9h.01M29.5 315.9h.01M27.1 317.9h.01M25.6 316.4h.01M24.8 314.3h.01M28.7 313.9h.01M27.2 316.3h.01M30.4 317.7h.01M28.3 314.5h.01M24.6 318.5h.01M31.0 310.6h.01M29.1 314.9h.01M28.8 315.6h.01M27.0 315.0h.01M27.3 317.4h.01M26.9 313.9h.01M28.7 316.3h.01M28.3 315.6h.01M30.3 317.3h.01M27.8 314.6h.01M28.7 311.2h.01M26.4 313.6h.01M27.8 314.2h.01M32.2 316.5h.01M28.2 319.6h.01M27.4 314.3h.01M29.8 316.7h.01M29.2 317.5h.01M26.7 313.7h.01M26.0 315.2h.01M29.3 312.9h.01M26.4 312.3h.01M31.3 316.6h.01M27.8 312.5h.01M25.4 313.7h.01M27.5 312.4h.01M27.0 317.5h.01M27.4 315.2h.01M23.4 314.4h.01M27.1 313.6h.01M24.8 314.9h.01M25.5 313.9h.01M24.4 314.8h.01M29.2 313.3h.01M28.0 311.9h.01M28.5 316.1h.01M26.7 316.8h.01M25.7 315.1h.01M30.7 315.0h.01M25.3 317.4h.01M28.4 314.4h.01M23.9 311.2h.01M24.5 318.0h.01M28.0 313.3h.01M29.6 318.0h.01M25.8 316.0h.01M24.3 315.8h.01M30.9 312.1h.01M27.5 313.7h.01M27.2 315.2h.01M28.0 316.8h.01M28.4 317.1h.01M29.4 317.3h.01M26.1 315.8h.01M26.7 313.3h.01M31.2 315.6h.01M27.5 310.7h.01M27.0 316.6h.01M27.0 313.9h.01M30.2 314.4h.01M26.8 314.8h.01M27.0 317.2h.01M28.5 314.9h.01M26.7 314.5h.01M30.7 314.4h.01M28.7 311.8h.01M30.0 307.0h.01M31.6 306.2h.01M30.5 306.2h.01M31.3 310.1h.01M29.8 303.7h.01M30.5 305.3h.01M30.6 307.2h.01M29.8 304.5h.01M30.0 302.7h.01M30.0 303.5h.01M30.2 305.8h.01M29.2 302.8h.01M29.6 304.0h.01M29.3 307.1h.01M31.1 302.6h.01M31.0 308.6h.01M31.3 306.1h.01M29.4 309.4h.01M29.0 302.1h.01M29.7 306.1h.01M27.8 302.8h.01M32.7 305.8h.01M30.8 304.2h.01M27.1 305.1h.01M31.7 304.0h.01M26.6 305.1h.01M29.1 305.5h.01M27.8 304.8h.01M28.6 307.5h.01M29.8 307.5h.01M41.8 296.8h.01M34.6 304.6h.01M45.5 315.5h.01M42.8 312.4h.01M41.6 315.0h.01M47.0 314.1h.01M41.4 313.6h.01M46.0 315.5h.01M37.8 315.9h.01M40.4 312.8h.01M38.5 313.6h.01M49.7 317.5h.01M20.7 315.0h.01M24.5 318.2h.01M22.8 312.4h.01M22.9 315.0h.01M19.2 317.4h.01M20.1 311.9h.01M28.1 319.8h.01M27.9 317.3h.01M22.9 316.7h.01M20.4 319.2h.01M24.8 316.1h.01M19.0 316.7h.01M28.4 321.2h.01M26.4 316.0h.01M24.4 318.6h.01M24.6 320.1h.01M22.2 310.2h.01M20.3 318.9h.01M26.9 317.0h.01M25.5 317.2h.01M24.5 315.6h.01M22.9 320.5h.01M23.3 316.9h.01M27.2 319.9h.01M23.0 317.7h.01M21.3 317.4h.01M24.9 317.0h.01M24.5 318.1h.01M24.2 315.6h.01M21.4 316.3h.01M28.3 316.3h.01M22.3 315.6h.01M20.8 318.4h.01M21.4 319.7h.01M26.5 318.7h.01M26.8 316.8h.01M19.3 316.8h.01M25.7 312.5h.01M20.8 320.2h.01M25.2 321.0h.01M25.8 317.2h.01M25.2 319.5h.01M24.0 316.4h.01" stroke="#000" stroke-width="0.85" stroke-linecap="round" fill="none"/>
<rect x="17.1" y="282.0" width="49.8" height="44.2" fill="none" stroke="#1a1a1a" stroke-width="1"/>
<path d="M34.8 282.0V326.2M17.1 309.2H66.9" stroke="#1a1a1a" stroke-width="1" fill="none"/>
<text x="19.700000000000003" y="289.2" font-size="6.6" text-anchor="start" >4.4</text>
<text x="66.10000000000001" y="289.2" font-size="6.6" text-anchor="end" >0.3</text>
<text x="66.10000000000001" y="322.8" font-size="6.6" text-anchor="end" >1.8</text>
<text x="100.6" y="277.6" font-size="8" text-anchor="middle" >BM</text>
<path d="M86.8 313.6h.01M90.4 312.2h.01M83.6 310.6h.01M88.0 313.3h.01M86.5 313.9h.01M86.7 310.1h.01M86.4 312.8h.01M88.1 316.5h.01M84.0 311.6h.01M87.2 318.3h.01M87.5 314.1h.01M88.1 307.2h.01M85.3 311.6h.01M84.4 316.4h.01M86.7 315.5h.01M86.0 316.5h.01M87.6 312.8h.01M87.8 311.7h.01M89.3 310.5h.01M85.7 311.2h.01M86.3 318.7h.01M84.9 320.2h.01M88.7 315.8h.01M85.2 317.4h.01M81.3 312.2h.01M87.9 314.5h.01M90.5 312.5h.01M83.9 313.9h.01M87.2 319.9h.01M83.2 315.1h.01M88.4 312.5h.01M85.4 310.8h.01M87.6 317.2h.01M87.2 315.4h.01M87.9 314.2h.01M87.5 317.2h.01M88.5 316.2h.01M86.4 316.8h.01M83.5 309.1h.01M89.0 315.0h.01M84.4 312.8h.01M86.0 314.8h.01M84.9 317.7h.01M83.3 323.4h.01M84.3 319.8h.01M87.4 309.3h.01M84.1 314.8h.01M86.7 313.3h.01M86.2 315.1h.01M84.2 314.8h.01M90.2 312.6h.01M84.5 316.7h.01M88.6 317.9h.01M85.1 314.4h.01M86.6 313.9h.01M86.9 318.0h.01M87.2 314.6h.01M85.9 320.2h.01M84.1 320.9h.01M87.5 314.9h.01M84.9 320.4h.01M88.4 317.5h.01M89.9 308.9h.01M86.4 313.6h.01M84.9 314.8h.01M87.2 316.3h.01M86.0 310.4h.01M87.2 316.5h.01M90.0 317.5h.01M86.3 311.0h.01M91.0 312.5h.01M86.6 317.0h.01M87.1 318.8h.01M84.4 312.4h.01M86.5 310.7h.01M85.1 319.0h.01M86.7 314.3h.01M85.2 314.8h.01M86.2 311.2h.01M87.6 310.6h.01M88.5 313.5h.01M82.2 309.7h.01M86.7 311.9h.01M89.4 319.0h.01M90.0 317.4h.01M88.6 312.7h.01M88.5 313.2h.01M86.1 310.3h.01M86.3 315.9h.01M86.1 311.1h.01M87.8 317.5h.01M86.1 317.1h.01M88.0 311.5h.01M86.2 308.7h.01M84.4 316.0h.01M84.7 315.8h.01M86.9 308.1h.01M85.4 319.4h.01M86.2 315.0h.01M85.0 309.5h.01M83.4 323.7h.01M85.9 311.8h.01M86.4 308.4h.01M88.7 320.0h.01M84.9 315.6h.01M84.6 317.3h.01M84.7 314.1h.01M88.6 316.3h.01M85.6 309.8h.01M83.4 318.4h.01M87.1 314.8h.01M88.5 315.1h.01M84.9 314.3h.01M86.0 314.6h.01M90.7 316.4h.01M86.7 313.8h.01M85.0 311.4h.01M82.9 313.1h.01M83.5 308.7h.01M84.5 308.1h.01M88.7 318.6h.01M84.5 321.1h.01M87.4 306.5h.01M86.3 311.4h.01M83.1 313.8h.01M88.3 316.0h.01M83.6 312.5h.01M84.9 318.3h.01M86.0 311.5h.01M84.6 308.3h.01M84.7 317.5h.01M82.8 315.2h.01M86.0 317.2h.01M84.2 317.5h.01M89.0 321.9h.01M83.3 314.5h.01M85.8 315.0h.01M84.4 317.3h.01M90.4 319.4h.01M84.5 312.8h.01M87.5 315.0h.01M84.8 318.6h.01M87.2 317.9h.01M85.9 318.7h.01M85.4 311.0h.01M86.2 310.1h.01M88.5 316.9h.01M83.2 315.1h.01M87.7 313.5h.01M87.0 312.7h.01M86.1 314.3h.01M87.1 311.5h.01M84.2 315.7h.01M85.3 316.3h.01M85.3 310.4h.01M87.5 315.5h.01M87.5 313.5h.01M85.6 318.6h.01M83.2 320.2h.01M87.1 314.4h.01M86.4 316.5h.01M84.8 315.5h.01M84.5 308.7h.01M86.6 314.9h.01M87.4 316.4h.01M87.5 317.1h.01M84.3 318.5h.01M91.1 312.8h.01M83.9 316.8h.01M87.9 317.8h.01M89.0 310.2h.01M86.9 316.1h.01M88.5 311.7h.01M86.3 313.4h.01M85.9 314.1h.01M85.9 308.9h.01M86.1 314.8h.01M85.5 303.2h.01M85.0 312.5h.01M84.6 319.7h.01M87.9 314.0h.01M87.3 325.2h.01M84.5 316.1h.01M85.1 319.4h.01M88.2 314.2h.01M87.3 312.0h.01M83.3 317.3h.01M89.2 313.6h.01M85.3 308.8h.01M90.1 310.7h.01M84.5 314.0h.01M88.4 314.8h.01M86.2 314.7h.01M87.7 314.5h.01M86.5 314.4h.01M84.2 318.9h.01M84.9 310.4h.01M85.4 314.7h.01M87.7 309.9h.01M83.9 315.2h.01M86.9 311.1h.01M84.2 315.2h.01M85.9 309.4h.01M84.6 319.4h.01M84.3 318.0h.01M83.4 319.4h.01M89.1 312.6h.01M85.0 316.6h.01M84.0 316.4h.01M88.4 315.4h.01M86.8 314.1h.01M88.0 312.0h.01M89.1 314.5h.01M85.6 309.4h.01M85.4 315.4h.01M88.5 309.4h.01M86.0 312.4h.01M84.0 314.6h.01M84.8 317.4h.01M81.3 317.0h.01M82.8 308.3h.01M87.1 313.5h.01M86.4 311.5h.01M84.3 312.2h.01M86.1 311.9h.01M85.4 311.8h.01M86.6 310.9h.01M82.4 306.2h.01M86.2 314.9h.01M87.9 312.2h.01M84.1 309.8h.01M87.6 312.6h.01M88.0 314.3h.01M85.7 308.6h.01M85.0 317.1h.01M85.1 316.8h.01M83.2 317.9h.01M91.2 318.2h.01M86.8 310.6h.01M85.2 312.5h.01M86.5 308.1h.01M84.6 317.1h.01M86.5 317.0h.01M87.7 310.9h.01M83.8 316.1h.01M86.3 314.9h.01M84.7 317.9h.01M87.1 318.3h.01M85.6 316.8h.01M86.1 311.6h.01M86.1 309.3h.01M85.9 315.2h.01M87.5 311.2h.01M83.8 312.3h.01M82.5 312.5h.01M90.9 315.1h.01M84.8 312.4h.01M89.4 310.9h.01M86.0 314.3h.01M84.9 312.3h.01M83.2 311.9h.01M88.5 319.1h.01M85.7 316.9h.01M87.0 315.0h.01M86.0 318.5h.01M87.2 313.9h.01M85.8 317.6h.01M85.1 312.3h.01M85.7 313.0h.01M88.5 315.7h.01M86.0 312.9h.01M88.8 316.0h.01M90.0 317.5h.01M85.8 312.8h.01M85.7 315.2h.01M87.6 316.2h.01M89.0 309.7h.01M86.3 310.0h.01M84.3 312.7h.01M85.0 311.5h.01M83.5 318.3h.01M85.6 317.7h.01M84.2 307.2h.01M85.1 317.4h.01M85.2 315.9h.01M84.3 319.1h.01M87.0 318.0h.01M85.7 318.7h.01M86.3 313.0h.01M85.0 314.8h.01M84.6 310.8h.01M86.4 316.9h.01M85.7 317.3h.01M89.1 310.5h.01M86.7 311.5h.01M85.0 315.2h.01M81.9 316.5h.01M87.7 316.3h.01M87.4 320.4h.01M85.5 318.1h.01M88.8 316.2h.01M83.0 314.1h.01M85.7 309.4h.01M86.1 317.0h.01M85.7 314.0h.01M88.9 312.6h.01M84.5 314.7h.01M88.2 316.5h.01M86.3 313.0h.01M88.4 317.4h.01M83.1 315.7h.01M81.9 319.4h.01M87.3 312.6h.01M83.9 313.6h.01M83.0 316.4h.01M85.3 308.9h.01M86.2 318.4h.01M83.9 313.5h.01M89.5 315.2h.01M85.2 315.2h.01M87.6 311.4h.01M86.0 309.4h.01M83.3 309.7h.01M87.7 315.6h.01M87.5 318.5h.01M86.3 315.4h.01M86.9 316.1h.01M84.3 313.7h.01M85.9 314.7h.01M84.8 314.2h.01M86.7 315.2h.01M87.3 317.2h.01M87.2 317.7h.01M87.7 319.1h.01M87.3 312.6h.01M90.4 318.2h.01M88.5 316.9h.01M86.3 310.9h.01M87.0 313.5h.01M85.5 307.7h.01M89.0 310.9h.01M84.2 316.1h.01M87.2 312.1h.01M86.2 315.4h.01M86.5 316.3h.01M87.6 313.4h.01M83.3 321.5h.01M85.5 311.4h.01M87.6 316.5h.01M85.1 322.1h.01M82.0 318.7h.01M86.1 315.6h.01M86.8 313.9h.01M86.8 310.4h.01M85.5 320.5h.01M81.5 318.5h.01M82.2 311.9h.01M87.8 313.3h.01M85.2 309.8h.01M86.0 314.0h.01M85.0 309.6h.01M86.5 315.9h.01M88.3 316.2h.01M88.9 318.4h.01M81.1 319.9h.01M86.0 311.2h.01M87.0 317.7h.01M83.4 310.6h.01M87.4 312.8h.01M88.8 315.3h.01M85.2 310.3h.01M87.3 309.1h.01M83.8 310.4h.01M89.3 320.1h.01M85.8 313.4h.01M87.5 318.6h.01M84.7 321.7h.01M85.8 318.2h.01M81.9 314.4h.01M84.9 321.0h.01M85.8 310.5h.01M89.7 312.4h.01M86.2 310.6h.01M87.4 315.2h.01M85.7 313.3h.01M85.2 312.3h.01M83.7 318.5h.01M87.8 310.1h.01M84.1 315.9h.01M90.3 313.9h.01M85.6 313.8h.01M86.6 314.0h.01M88.2 317.8h.01M87.2 319.7h.01M85.8 312.8h.01M91.6 308.4h.01M83.4 307.0h.01M86.8 311.2h.01M88.1 307.9h.01M85.9 313.3h.01M85.4 309.1h.01M86.5 307.3h.01M86.3 306.4h.01M86.4 306.2h.01M87.0 304.1h.01M87.9 305.5h.01M85.5 303.0h.01M88.0 309.7h.01M85.0 304.8h.01M88.0 308.9h.01M88.4 302.7h.01M87.3 308.5h.01M87.6 305.4h.01M85.2 306.5h.01M87.1 306.1h.01M89.8 309.3h.01M85.8 306.6h.01M86.7 306.3h.01M90.0 308.6h.01M87.3 304.1h.01M86.9 307.0h.01M86.3 309.1h.01M87.2 302.7h.01M90.7 297.8h.01M86.7 305.7h.01M88.9 309.1h.01M89.7 310.4h.01M87.7 306.3h.01M88.9 305.9h.01M85.0 304.7h.01M88.3 307.7h.01M85.3 309.4h.01M87.7 301.8h.01M88.0 308.8h.01M88.1 305.1h.01M85.8 309.1h.01M87.6 306.0h.01M86.5 303.1h.01M84.0 305.0h.01M89.1 308.1h.01M86.0 310.3h.01M86.8 303.2h.01M88.9 309.9h.01M86.5 302.6h.01M87.1 299.2h.01M87.3 310.3h.01M87.7 303.9h.01M88.4 304.6h.01M89.4 305.0h.01M90.7 305.0h.01M87.5 303.4h.01M85.0 307.0h.01M87.8 303.3h.01M88.2 304.8h.01M86.3 305.8h.01M87.9 308.0h.01M89.3 307.1h.01M86.0 304.1h.01M87.8 302.6h.01M86.9 304.9h.01M87.0 306.5h.01M89.0 310.6h.01M88.7 308.8h.01M85.4 308.9h.01M89.4 302.2h.01M91.5 304.4h.01M83.1 311.0h.01M87.3 303.7h.01M86.2 309.0h.01M87.6 304.9h.01M89.2 303.4h.01M85.8 304.4h.01M85.9 307.9h.01M86.8 303.0h.01M86.4 300.4h.01M87.5 306.3h.01M88.2 305.3h.01M87.9 303.4h.01M87.2 306.4h.01M85.1 307.6h.01M87.4 306.1h.01M86.4 311.6h.01M87.2 303.8h.01M85.8 307.7h.01M86.8 303.8h.01M86.0 308.6h.01M87.3 309.0h.01M87.2 302.7h.01M88.7 306.9h.01M86.1 305.1h.01M85.5 308.3h.01M86.5 307.3h.01M87.6 305.3h.01M87.8 305.3h.01M85.2 304.8h.01M85.2 308.1h.01M88.3 304.4h.01M88.3 306.7h.01M88.9 303.4h.01M87.2 303.2h.01M86.0 309.8h.01M83.8 303.4h.01M88.0 308.2h.01M85.9 300.3h.01M84.3 307.0h.01M89.1 308.5h.01M86.0 309.8h.01M86.9 307.7h.01M86.9 310.5h.01M86.3 300.0h.01M86.7 306.5h.01M87.7 304.0h.01M86.8 302.8h.01M86.8 306.2h.01M87.6 310.6h.01M83.8 307.4h.01M87.9 302.8h.01M87.3 306.0h.01M85.5 308.0h.01M90.4 307.9h.01M88.5 309.0h.01M87.0 308.7h.01M85.8 306.5h.01M88.4 309.7h.01M86.7 305.2h.01M88.0 305.8h.01M87.4 308.2h.01M85.9 308.4h.01M87.8 305.3h.01M85.1 304.2h.01M87.1 308.6h.01M83.9 308.0h.01M87.5 302.8h.01M88.7 307.1h.01M87.9 303.3h.01M85.3 308.5h.01M89.6 307.0h.01M86.9 304.7h.01M84.3 308.7h.01M87.0 309.4h.01M86.0 308.9h.01M86.0 307.6h.01M89.5 304.0h.01M88.7 306.0h.01M85.6 306.6h.01M88.3 304.0h.01M86.7 304.4h.01M85.9 305.4h.01M88.6 304.6h.01M89.3 304.9h.01M86.0 309.0h.01M89.6 304.2h.01M88.2 302.8h.01M86.5 305.0h.01M88.4 302.5h.01M86.3 304.1h.01M87.4 302.6h.01M84.9 313.8h.01M87.6 301.8h.01M88.6 302.3h.01M84.0 310.6h.01M89.3 303.7h.01M85.4 307.3h.01M90.6 307.7h.01M88.3 302.7h.01M84.2 307.1h.01M88.9 306.4h.01M87.2 309.8h.01M85.8 309.0h.01M88.6 304.3h.01M87.4 306.3h.01M88.2 303.3h.01M86.8 306.2h.01M87.2 306.1h.01M87.6 305.5h.01M86.4 308.9h.01M86.1 305.1h.01M85.7 302.8h.01M88.0 305.9h.01M87.0 307.3h.01M86.9 307.9h.01M90.2 307.0h.01M86.8 310.6h.01M88.4 301.4h.01M89.4 306.6h.01M88.6 302.8h.01M85.8 304.2h.01M88.1 302.9h.01M86.0 308.6h.01M86.1 306.3h.01M85.7 301.3h.01M87.1 305.7h.01M84.8 308.7h.01M88.6 308.4h.01M86.3 302.8h.01M87.0 306.5h.01M86.9 304.4h.01M85.5 304.0h.01M87.1 304.7h.01M90.0 305.2h.01M88.0 304.7h.01M86.9 303.3h.01M86.4 301.9h.01M83.7 309.7h.01M85.4 307.2h.01M87.0 304.4h.01M88.4 304.5h.01M87.9 305.0h.01M88.8 308.6h.01M87.3 309.0h.01M88.0 310.3h.01M87.0 301.8h.01M87.6 306.7h.01M86.6 305.4h.01M86.7 302.6h.01M90.1 303.9h.01M85.4 301.7h.01M85.8 305.9h.01M89.7 307.6h.01M86.0 302.6h.01M93.7 304.4h.01M99.5 303.6h.01M101.7 307.9h.01M97.5 300.7h.01M100.2 304.3h.01M99.0 306.2h.01M94.0 304.6h.01M97.5 303.2h.01M99.0 304.3h.01M95.8 307.8h.01M97.5 307.4h.01M96.5 306.3h.01M94.8 304.8h.01M100.2 300.7h.01M98.6 304.0h.01M100.2 304.8h.01M96.8 302.2h.01M105.6 303.2h.01M96.0 303.2h.01M96.1 304.9h.01M93.1 306.4h.01M96.2 305.6h.01M90.8 303.6h.01M96.1 303.8h.01M95.0 305.0h.01M98.2 302.8h.01M91.2 314.3h.01M96.0 314.9h.01M99.5 312.8h.01M92.8 312.4h.01M94.9 315.2h.01M92.0 314.6h.01M92.5 312.0h.01M92.8 311.8h.01M95.7 313.6h.01M95.3 314.2h.01M102.1 313.3h.01M93.6 312.7h.01M96.7 312.4h.01M100.4 315.0h.01M102.9 313.9h.01M89.2 312.8h.01M98.9 311.6h.01M95.2 314.6h.01M97.4 311.0h.01M95.3 307.6h.01M97.0 310.8h.01M96.8 310.9h.01M79.9 310.5h.01M90.1 307.2h.01M79.2 310.3h.01M85.4 316.9h.01M84.4 311.4h.01M82.8 309.2h.01M82.0 309.0h.01M78.5 308.1h.01M87.8 314.9h.01M80.4 312.4h.01M81.2 319.0h.01M82.4 309.9h.01M84.3 314.5h.01M80.6 309.2h.01M82.9 305.0h.01M80.0 317.9h.01M84.8 318.4h.01M81.3 310.1h.01M81.7 310.6h.01M86.0 311.9h.01M86.2 309.5h.01M83.5 320.9h.01M80.4 309.8h.01M80.8 305.1h.01M81.7 309.8h.01M88.5 310.6h.01M76.6 317.6h.01M85.1 312.8h.01M83.3 316.5h.01M80.9 313.2h.01M82.9 321.1h.01M86.3 313.8h.01M78.8 317.3h.01M82.3 318.7h.01M82.6 313.9h.01M84.3 309.4h.01M80.7 324.2h.01M80.1 317.5h.01M84.3 317.0h.01M86.2 306.4h.01M85.1 302.9h.01M82.6 314.6h.01M85.3 318.3h.01M79.9 311.6h.01M82.0 309.6h.01M80.2 309.7h.01M85.6 319.6h.01M84.5 321.2h.01M82.7 307.7h.01M80.7 314.0h.01M85.3 318.9h.01M80.0 317.7h.01M81.0 315.9h.01M85.0 320.2h.01M81.0 314.2h.01M83.6 310.9h.01M82.7 315.9h.01M78.0 309.8h.01M88.8 315.2h.01M80.9 304.0h.01" stroke="#000" stroke-width="0.85" stroke-linecap="round" fill="none"/>
<rect x="74.5" y="282.0" width="49.3" height="44.2" fill="none" stroke="#1a1a1a" stroke-width="1"/>
<path d="M91.8 282.0V326.2M74.5 309.2H123.8" stroke="#1a1a1a" stroke-width="1" fill="none"/>
<text x="77.1" y="289.2" font-size="6.6" text-anchor="start" >21.8</text>
<text x="123.0" y="289.2" font-size="6.6" text-anchor="end" >4.0</text>
<text x="123.0" y="324.4" font-size="6.6" text-anchor="end" >3.2</text>
<text transform="translate(8.3 113.8) rotate(-90)" font-size="7" text-anchor="middle">CD44 PE</text>
<text transform="translate(7.9 299.9) rotate(-90)" font-size="7" text-anchor="middle">CD122 PE</text>
<path d="M5.5 138.1V153.1H19.9M2.4 143.29999999999998L5.5 138.1L8.6 143.29999999999998M14.499999999999998 150.29999999999998L19.9 153.1L14.499999999999998 155.9" stroke="#1a1a1a" stroke-width="1" fill="none" stroke-linejoin="miter"/>
<path d="M5.6 327.8V341.2H18.6M2.4999999999999996 333.0L5.6 327.8L8.7 333.0M13.200000000000001 338.4L18.6 341.2L13.200000000000001 344.0" stroke="#1a1a1a" stroke-width="1" fill="none" stroke-linejoin="miter"/>
<text x="28.4" y="156.2" font-size="6.9" text-anchor="start" >BrdU FITC</text>
<text x="27.5" y="343.6" font-size="6.9" text-anchor="start" >BrdU FITC</text>
<path d="M171 18.4V159.0H338.3M169.4 159.0H171M169.4 123.9H171M169.4 88.8H171M169.4 53.8H171M169.4 18.7H171M212.9 159.0v1.6M254.3 159.0v1.6M296.2 159.0v1.6M338.3 159.0v1.6" stroke="#484848" stroke-width="1.3" fill="none"/>
<text x="168.4" y="162.5" font-size="7.5" text-anchor="end" >0</text>
<text x="168.4" y="127.4" font-size="7.5" text-anchor="end" >5</text>
<text x="168.4" y="92.3" font-size="7.5" text-anchor="end" >10</text>
<text x="168.4" y="57.3" font-size="7.5" text-anchor="end" >15</text>
<text x="168.4" y="22.2" font-size="7.5" text-anchor="end" >20</text>
<text x="191.2" y="168.6" font-size="8.1" text-anchor="middle" >Spleen</text>
<text x="232.9" y="168.6" font-size="8.1" text-anchor="middle" >PLN</text>
<text x="274.6" y="168.6" font-size="8.1" text-anchor="middle" >MLN</text>
<text x="316.6" y="168.6" font-size="8.1" text-anchor="middle" >BM</text>
<path d="M345 18.4V159.0H512M343.4 159.0H345M343.4 123.9H345M343.4 88.8H345M343.4 53.8H345M343.4 18.7H345M386.9 159.0v1.6M428.5 159.0v1.6M470.2 159.0v1.6M512 159.0v1.6" stroke="#484848" stroke-width="1.2" fill="none"/>
<text x="365.2" y="168.6" font-size="8.1" text-anchor="middle" >Spleen</text>
<text x="407.0" y="168.6" font-size="8.1" text-anchor="middle" >PLN</text>
<text x="448.7" y="168.6" font-size="8.1" text-anchor="middle" >MLN</text>
<text x="490.4" y="168.6" font-size="8.1" text-anchor="middle" >BM</text>
<path d="M171 202.0V343.4H338.3M169.4 343.4H171M169.4 308.1H171M169.4 272.9H171M169.4 237.6H171M169.4 202.3H171M212.5 343.4v1.6M254.3 343.4v1.6M296.2 343.4v1.6M338.3 343.4v1.6" stroke="#484848" stroke-width="1.3" fill="none"/>
<text x="168.4" y="346.9" font-size="7.5" text-anchor="end" >0</text>
<text x="168.4" y="311.6" font-size="7.5" text-anchor="end" >5</text>
<text x="168.4" y="276.4" font-size="7.5" text-anchor="end" >10</text>
<text x="168.4" y="241.1" font-size="7.5" text-anchor="end" >15</text>
<text x="168.4" y="205.8" font-size="7.5" text-anchor="end" >20</text>
<text x="191.1" y="351.6" font-size="8.1" text-anchor="middle" >Spleen</text>
<text x="232.7" y="351.6" font-size="8.1" text-anchor="middle" >PLN</text>
<text x="274.6" y="351.6" font-size="8.1" text-anchor="middle" >MLN</text>
<text x="316.6" y="351.6" font-size="8.1" text-anchor="middle" >BM</text>
<path d="M345.3 202.0V343.4H511.8M343.7 343.4H345.3M343.7 308.1H345.3M343.7 272.9H345.3M343.7 237.6H345.3M343.7 202.3H345.3M387.3 343.4v1.6M428.5 343.4v1.6M470.2 343.4v1.6M511.8 343.4v1.6" stroke="#484848" stroke-width="1.2" fill="none"/>
<text x="365.6" y="351.6" font-size="8.1" text-anchor="middle" >Spleen</text>
<text x="407.2" y="351.6" font-size="8.1" text-anchor="middle" >PLN</text>
<text x="448.7" y="351.6" font-size="8.1" text-anchor="middle" >MLN</text>
<text x="490.3" y="351.6" font-size="8.1" text-anchor="middle" >BM</text>
<text transform="translate(156.2 92) rotate(-90)" font-size="8" text-anchor="middle">% BrdU<tspan font-size="5" dy="-2.6">+</tspan><tspan dy="2.6"> cells</tspan></text>
<text transform="translate(156.2 276) rotate(-90)" font-size="8" text-anchor="middle">% BrdU<tspan font-size="5" dy="-2.6">+</tspan><tspan dy="2.6"> cells</tspan></text>
<rect x="193.1" y="109.6" width="17.4" height="3.4" fill="#fff" stroke="#222" stroke-width="0.8"/>
<use href="#oc" x="181.1" y="96.5"/><use href="#oc" x="189.2" y="94.7"/><use href="#oc" x="174.8" y="113.7"/><use href="#oc" x="181.8" y="111.9"/><use href="#oc" x="189.3" y="112.3"/><use href="#oc" x="179.7" y="119.8"/><use href="#oc" x="184.3" y="130.6"/>
<rect x="238.4" y="121.3" width="17.2" height="3.4" fill="#fff" stroke="#222" stroke-width="0.8"/><path d="M240.6 121.3V124.7M242.7 121.3V124.7M244.8 121.3V124.7M247.0 121.3V124.7M249.2 121.3V124.7M251.3 121.3V124.7M253.4 121.3V124.7" stroke="#222" stroke-width="0.7"/>
<use href="#vc" x="229" y="109.1"/><use href="#vc" x="236" y="109.4"/><use href="#vc" x="220" y="125.7"/><use href="#vc" x="228" y="122.7"/><use href="#vc" x="235" y="122.7"/><use href="#vc" x="231" y="130.9"/><use href="#vc" x="230" y="140.4"/>
<rect x="277.6" y="118.9" width="16.9" height="3.0" fill="#fff" stroke="#333" stroke-width="0.8"/><rect x="277.6" y="120.46" width="16.9" height="1.44" fill="#707070"/>
<use href="#hc" x="269.8" y="110"/><use href="#hc" x="280.4" y="110"/><use href="#hc" x="275.7" y="116"/><use href="#hc" x="269.4" y="132"/><use href="#hc" x="276.4" y="135"/>
<use href="#fc" x="313" y="41.7"/><use href="#fc" x="319.9" y="38.6"/><use href="#fc" x="313" y="60.0"/><use href="#fc" x="319.9" y="57.2"/><use href="#fc" x="313.3" y="100.6"/><use href="#fc" x="319.5" y="97.2"/><use href="#fc" x="317.1" y="115"/>
<rect x="318.9" y="71.2" width="17.3" height="3.5" fill="#0a0a0a"/>
<rect x="371.6" y="148.6" width="17.3" height="3.3" fill="#fff" stroke="#222" stroke-width="0.8"/>
<use href="#oc" x="348.3" y="149.1"/><use href="#oc" x="352.1" y="147.1"/><use href="#oc" x="357.3" y="151.5"/><use href="#oc" x="360.5" y="148"/><use href="#oc" x="364.5" y="153.7"/><use href="#oc" x="367.5" y="149.1"/>
<rect x="410" y="151.2" width="22.2" height="3.1" fill="#fff" stroke="#222" stroke-width="0.8"/><path d="M412.5 151.2V154.3M414.9 151.2V154.3M417.4 151.2V154.3M419.9 151.2V154.3M422.3 151.2V154.3M424.8 151.2V154.3M427.3 151.2V154.3M429.7 151.2V154.3" stroke="#222" stroke-width="0.7"/>
<use href="#vc" x="393" y="153.5"/><use href="#vc" x="395" y="149.4"/><use href="#vc" x="396" y="154"/><use href="#vc" x="400" y="148.8"/><use href="#vc" x="401" y="154.6"/><use href="#vc" x="404" y="150"/><use href="#vc" x="407" y="153.5"/><use href="#vc" x="413" y="150.6"/>
<rect x="453.4" y="150.8" width="17.1" height="3.1" fill="#fff" stroke="#333" stroke-width="0.8"/><rect x="453.4" y="152.41" width="17.1" height="1.49" fill="#707070"/>
<use href="#hc" x="436.5" y="153"/><use href="#hc" x="440.6" y="151"/><use href="#hc" x="444.6" y="150"/><use href="#hc" x="446.3" y="155"/><use href="#hc" x="451" y="150"/><use href="#hc" x="449.8" y="153"/>
<use href="#fc" x="490.9" y="106.4"/><use href="#fc" x="497.6" y="124.4"/><use href="#fc" x="490.4" y="129.3"/><use href="#fc" x="484" y="131.5"/><use href="#fc" x="483.1" y="148.5"/><use href="#fc" x="490.4" y="147"/><use href="#fc" x="495.8" y="153.2"/>
<rect x="493.8" y="133.0" width="16.9" height="3.3" fill="#0a0a0a"/>
<rect x="182.7" y="300.1" width="18.0" height="4.0" fill="#fff" stroke="#222" stroke-width="0.8"/>
<use href="#oc" x="191.8" y="264.2"/><use href="#oc" x="191.7" y="275.4"/><use href="#oc" x="191.7" y="288.7"/><use href="#oc" x="179.7" y="323"/><use href="#oc" x="186.3" y="324.4"/><use href="#oc" x="193.4" y="321.6"/><use href="#oc" x="200.1" y="318.8"/>
<rect x="234.1" y="320.5" width="19.4" height="3.9" fill="#fff" stroke="#222" stroke-width="0.8"/><path d="M236.3 320.5V324.4M238.4 320.5V324.4M240.6 320.5V324.4M242.7 320.5V324.4M244.9 320.5V324.4M247.0 320.5V324.4M249.2 320.5V324.4M251.3 320.5V324.4" stroke="#222" stroke-width="0.7"/>
<use href="#vc" x="228" y="302.7"/><use href="#vc" x="215" y="322.1"/><use href="#vc" x="221" y="323.8"/><use href="#vc" x="226" y="319.6"/><use href="#vc" x="232" y="322.7"/><use href="#vc" x="229" y="328"/><use href="#vc" x="229" y="337.2"/>
<rect x="279.4" y="315.6" width="17.5" height="3.2" fill="#fff" stroke="#333" stroke-width="0.8"/><rect x="279.4" y="317.26" width="17.5" height="1.54" fill="#707070"/>
<use href="#hc" x="271.9" y="302"/><use href="#hc" x="271.9" y="312"/><use href="#hc" x="275.8" y="319"/><use href="#hc" x="267.7" y="322"/><use href="#hc" x="272.2" y="329"/>
<use href="#fc" x="313.1" y="234.2"/><use href="#fc" x="313" y="266.2"/><use href="#fc" x="313" y="282.7"/><use href="#fc" x="305.5" y="285.9"/><use href="#fc" x="320.4" y="295.0"/><use href="#fc" x="305.2" y="299.8"/><use href="#fc" x="312.8" y="301"/>
<rect x="317.5" y="278.9" width="17.3" height="3.2" fill="#0a0a0a"/>
<rect x="370.4" y="323.4" width="17.0" height="3.6" fill="#fff" stroke="#222" stroke-width="0.8"/>
<use href="#oc" x="352.7" y="321.1"/><use href="#oc" x="358.5" y="318.8"/><use href="#oc" x="365.6" y="322.3"/><use href="#oc" x="349.2" y="328.6"/><use href="#oc" x="355.2" y="331"/><use href="#oc" x="359.4" y="326.3"/><use href="#oc" x="366.3" y="328.6"/>
<rect x="413.5" y="329.4" width="16.6" height="3.8" fill="#fff" stroke="#222" stroke-width="0.8"/><path d="M415.6 329.4V333.2M417.6 329.4V333.2M419.7 329.4V333.2M421.8 329.4V333.2M423.9 329.4V333.2M426.0 329.4V333.2M428.0 329.4V333.2" stroke="#222" stroke-width="0.7"/>
<use href="#vc" x="392" y="333.3"/><use href="#vc" x="398" y="328.1"/><use href="#vc" x="398" y="336.4"/><use href="#vc" x="405" y="324.8"/><use href="#vc" x="404" y="332.5"/><use href="#vc" x="409" y="333.8"/><use href="#vc" x="412" y="326"/>
<rect x="453.8" y="330.0" width="17.2" height="3.7" fill="#fff" stroke="#333" stroke-width="0.8"/><rect x="453.8" y="331.92" width="17.2" height="1.78" fill="#707070"/>
<use href="#hc" x="438.3" y="337"/><use href="#hc" x="442.1" y="331"/><use href="#hc" x="447.7" y="334"/><use href="#hc" x="449.2" y="330"/><use href="#hc" x="455.9" y="327"/>
<use href="#fc" x="487.8" y="270.2"/><use href="#fc" x="485" y="292.8"/><use href="#fc" x="491.2" y="297.7"/><use href="#fc" x="492.8" y="312.9"/><use href="#fc" x="485" y="315.2"/><use href="#fc" x="485" y="322.6"/><use href="#fc" x="491.2" y="326.5"/>
<rect x="492.1" y="303.8" width="17.2" height="3.6" fill="#0a0a0a"/>
<text x="237.1" y="9.7" font-size="8">CD44<tspan class="sp" font-size="5.6" dy="-3.2">high</tspan></text>
<text x="411.2" y="9.7" font-size="8">CD44<tspan class="sp" font-size="5.6" dy="-3.2">int/low</tspan></text>
<text x="234.1" y="193.9" font-size="8">CD122<tspan class="sp" font-size="5.6" dy="-3.2">high</tspan></text>
<text x="408.8" y="193.9" font-size="8">CD122<tspan class="sp" font-size="5.6" dy="-3.2">int/low</tspan></text>
<text x="298.6" y="21.0" font-size="6.9" text-anchor="start" ><tspan font-style="italic">P</tspan> &#8804;.05 vs</text>
<text x="287.5" y="29.0" font-size="6.85" text-anchor="start" >Spleen, PLN, MLN</text>
<text x="469.7" y="90.2" font-size="6.9" text-anchor="start" ><tspan font-style="italic">P</tspan> &#8804;.05 vs</text>
<text x="458.2" y="98.7" font-size="6.85" text-anchor="start" >Spleen, PLN, MLN</text>
<text x="351.3" y="128.0" font-size="6.5" text-anchor="start" ><tspan font-style="italic">P</tspan>&#8804;0.01</text>
<text x="351.7" y="135.8" font-size="6.5" text-anchor="start" >vs PLN</text>
<text x="182.7" y="245.8" font-size="6.4" text-anchor="start" ><tspan font-style="italic">P</tspan> &#8804;.05</text>
<text x="183.5" y="253.7" font-size="6.4" text-anchor="start" >vs PLN</text>
<text x="295.2" y="217.3" font-size="6.9" text-anchor="start" ><tspan font-style="italic">P</tspan> &#8804;.05 vs</text>
<text x="283.9" y="225.5" font-size="6.8" text-anchor="start" >Spleen, PLN, MLN</text>
<text x="354.9" y="303.2" font-size="6.7" text-anchor="start" ><tspan font-style="italic">P</tspan> &#8804;.05</text>
<text x="356.0" y="310.8" font-size="6.7" text-anchor="start" >vs MLN</text>
<text x="469.7" y="251.6" font-size="6.9" text-anchor="start" ><tspan font-style="italic">P</tspan> &#8804;.05 vs</text>
<text x="458.5" y="260.4" font-size="6.85" text-anchor="start" >Spleen, PLN, MLN</text>
<rect x="436.9" y="17.1" width="81.7" height="34.6" fill="#fff" stroke="#444" stroke-width="0.8"/>
<text x="443.8" y="28.7" font-size="7">CD44<tspan class="sp" font-size="4.3" dy="-2.6">high</tspan><tspan dy="2.6" dx="2.6">vs</tspan><tspan dx="4.6">CD44</tspan><tspan class="sp" font-size="4.8" dy="-2.6">int/low</tspan></text>
<text x="462.9" y="37.0" font-size="7" text-anchor="start" ><tspan font-style="italic">P</tspan>&#8804;.01 for</text>
<text x="444.2" y="44.8" font-size="6.95" text-anchor="start" >Spleen, PLN, MLN, BM</text>
<rect x="431.4" y="199.5" width="87.7" height="35.3" fill="#fff" stroke="#444" stroke-width="0.8"/>
<text x="434.1" y="211.6" font-size="7">CD122<tspan class="sp" font-size="4.3" dy="-2.6">high</tspan><tspan dy="2.6" dx="3.6">vs</tspan><tspan dx="5.4">CD122</tspan><tspan class="sp" font-size="5" dy="-2.6">int/low</tspan></text>
<text x="459.7" y="220.2" font-size="7" text-anchor="start" ><tspan font-style="italic">P</tspan> &#8804;.05 for</text>
<text x="455.2" y="228.0" font-size="7" text-anchor="start" >Spleen, MLN</text>
</g>
</svg>
</body></html>
